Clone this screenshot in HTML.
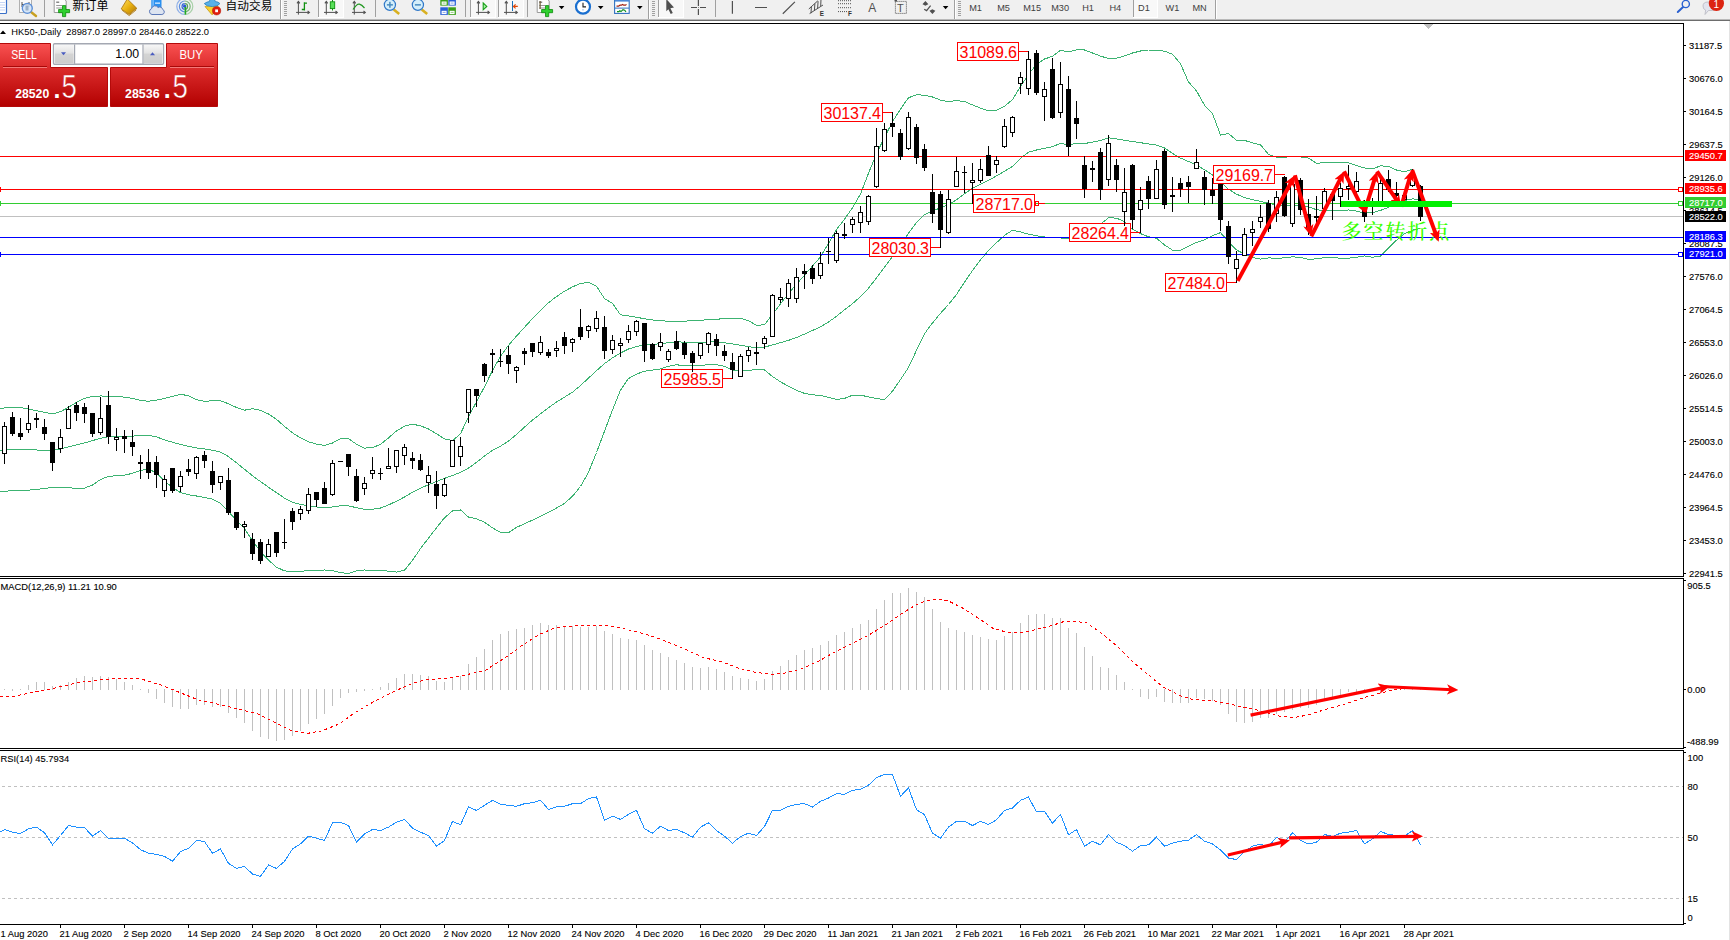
<!DOCTYPE html>
<html><head><meta charset="utf-8"><title>HK50-,Daily</title>
<style>
html,body{margin:0;padding:0;background:#fff;}
body{width:1730px;height:940px;overflow:hidden;position:relative;font-family:"Liberation Sans", sans-serif;}
svg{position:absolute;left:0;top:0;display:block}
svg text{font-family:"Liberation Sans", sans-serif;}
.ax{font-size:9.2px;fill:#000}
.cjk{font-family:"Liberation Sans","Noto Sans CJK SC",sans-serif}
</style></head><body>
<svg width="1730" height="940" viewBox="0 0 1730 940">

<rect x="0" y="0" width="1730" height="19" fill="#f0f0f0"/>
<rect x="0" y="19" width="1730" height="1" fill="#b9b9b9"/>
<rect x="0" y="20" width="1730" height="1" fill="#6d6d6d"/>
<rect x="1729" y="21" width="1" height="919" fill="#e3e3e3"/>
<g clip-path="url(#tbc)"><defs><clipPath id="tbc"><rect x="0" y="0" width="1730" height="19"/></clipPath></defs><rect x="318" y="0" width="25" height="17" fill="#f8f8f8"/>
<rect x="318" y="0" width="1" height="17" fill="#a0a0a0"/>
<rect x="318" y="17" width="26" height="1" fill="#ffffff"/>
<rect x="343" y="0" width="1" height="17" fill="#ffffff"/>
<rect x="470" y="0" width="25" height="17" fill="#f8f8f8"/>
<rect x="470" y="0" width="1" height="17" fill="#a0a0a0"/>
<rect x="470" y="17" width="26" height="1" fill="#ffffff"/>
<rect x="495" y="0" width="1" height="17" fill="#ffffff"/>
<rect x="498" y="0" width="25" height="17" fill="#f8f8f8"/>
<rect x="498" y="0" width="1" height="17" fill="#a0a0a0"/>
<rect x="498" y="17" width="26" height="1" fill="#ffffff"/>
<rect x="523" y="0" width="1" height="17" fill="#ffffff"/>
<rect x="658" y="0" width="25" height="17" fill="#f8f8f8"/>
<rect x="658" y="0" width="1" height="17" fill="#a0a0a0"/>
<rect x="658" y="17" width="26" height="1" fill="#ffffff"/>
<rect x="683" y="0" width="1" height="17" fill="#ffffff"/>
<rect x="1133" y="0" width="24" height="17" fill="#f8f8f8"/>
<rect x="1133" y="0" width="1" height="17" fill="#a0a0a0"/>
<rect x="1133" y="17" width="25" height="1" fill="#ffffff"/>
<rect x="1157" y="0" width="1" height="17" fill="#ffffff"/>
<rect x="44" y="0" width="1" height="17" fill="#a0a0a0"/>
<rect x="375" y="0" width="1" height="17" fill="#a0a0a0"/>
<rect x="465" y="0" width="1" height="17" fill="#a0a0a0"/>
<rect x="527" y="0" width="1" height="17" fill="#a0a0a0"/>
<rect x="715" y="0" width="1" height="17" fill="#a0a0a0"/>
<rect x="280" y="0" width="1" height="19" fill="#a0a0a0"/><rect x="281" y="0" width="1" height="19" fill="#ffffff"/>
<rect x="284" y="1" width="3" height="1" fill="#a0a0a0"/>
<rect x="284" y="3" width="3" height="1" fill="#a0a0a0"/>
<rect x="284" y="5" width="3" height="1" fill="#a0a0a0"/>
<rect x="284" y="7" width="3" height="1" fill="#a0a0a0"/>
<rect x="284" y="9" width="3" height="1" fill="#a0a0a0"/>
<rect x="284" y="11" width="3" height="1" fill="#a0a0a0"/>
<rect x="284" y="13" width="3" height="1" fill="#a0a0a0"/>
<rect x="284" y="15" width="3" height="1" fill="#a0a0a0"/>
<rect x="648" y="0" width="1" height="19" fill="#a0a0a0"/><rect x="649" y="0" width="1" height="19" fill="#ffffff"/>
<rect x="652" y="1" width="3" height="1" fill="#a0a0a0"/>
<rect x="652" y="3" width="3" height="1" fill="#a0a0a0"/>
<rect x="652" y="5" width="3" height="1" fill="#a0a0a0"/>
<rect x="652" y="7" width="3" height="1" fill="#a0a0a0"/>
<rect x="652" y="9" width="3" height="1" fill="#a0a0a0"/>
<rect x="652" y="11" width="3" height="1" fill="#a0a0a0"/>
<rect x="652" y="13" width="3" height="1" fill="#a0a0a0"/>
<rect x="652" y="15" width="3" height="1" fill="#a0a0a0"/>
<rect x="954" y="0" width="1" height="19" fill="#a0a0a0"/><rect x="955" y="0" width="1" height="19" fill="#ffffff"/>
<rect x="958" y="1" width="3" height="1" fill="#a0a0a0"/>
<rect x="958" y="3" width="3" height="1" fill="#a0a0a0"/>
<rect x="958" y="5" width="3" height="1" fill="#a0a0a0"/>
<rect x="958" y="7" width="3" height="1" fill="#a0a0a0"/>
<rect x="958" y="9" width="3" height="1" fill="#a0a0a0"/>
<rect x="958" y="11" width="3" height="1" fill="#a0a0a0"/>
<rect x="958" y="13" width="3" height="1" fill="#a0a0a0"/>
<rect x="958" y="15" width="3" height="1" fill="#a0a0a0"/>
<rect x="1215" y="0" width="1" height="19" fill="#a0a0a0"/><rect x="1216" y="0" width="1" height="19" fill="#ffffff"/>
<rect x="-2" y="-2" width="8.5" height="15.5" rx="1" fill="#fff" stroke="#3a70c8" stroke-width="1.2"/>
<rect x="0" y="2" width="5" height="1" fill="#c5d6f5"/>
<rect x="0" y="4.5" width="5" height="1" fill="#c5d6f5"/>
<rect x="0" y="7" width="5" height="1" fill="#c5d6f5"/>
<rect x="0" y="9.5" width="5" height="1" fill="#c5d6f5"/>
<rect x="19.5" y="-2" width="12" height="14.5" fill="#fafafa" stroke="#b0b0b0" stroke-width="1"/>
<path d="M22 2v5M29 2v5M22 4.5h7" stroke="#555" stroke-width="1" fill="none"/>
<line x1="31" y1="12" x2="36" y2="16" stroke="#c8a020" stroke-width="2.4" stroke-linecap="round"/>
<circle cx="27.3" cy="8.3" r="5" fill="#cfe2f7" fill-opacity="0.85" stroke="#5b8fd8" stroke-width="1.3"/>
<rect x="25.5" y="5.5" width="3" height="5" fill="#9ab0c8"/>
<path d="M54.2 -2h9l3 3v11.5h-12z" fill="#fdfdfd" stroke="#9a9a9a" stroke-width="1"/>
<rect x="56.2" y="1.5" width="3" height="1.5" fill="#888"/><rect x="56.2" y="5" width="6" height="1" fill="#999"/><rect x="56.2" y="7.5" width="6" height="1" fill="#999"/>
<path d="M62.50000000000001 5.6h3.2v3.9h3.9v3.2h-3.9v3.9h-3.2v-3.9h-3.9v-3.2h3.9z" fill="#2fd02f" stroke="#0b8a0b" stroke-width="0.8"/>
<text x="72.6" y="9.8" font-size="12px" fill="#000" style="font-family:'Liberation Sans','Noto Sans CJK SC',sans-serif">新订单</text>
<defs><linearGradient id="gd" x1="0" y1="0" x2="1" y2="1"><stop offset="0" stop-color="#ffe066"/><stop offset="0.5" stop-color="#e8b010"/><stop offset="1" stop-color="#a87008"/></linearGradient></defs>
<path d="M127.3 -1 L136.8 8.3 L129.2 14.6 L121.2 8.9 z" fill="url(#gd)" stroke="#a87008" stroke-width="0.8"/>
<path d="M136.3 9.8 L129.2 15.6 L122 10.2" fill="none" stroke="#b88a30" stroke-width="1"/>
<rect x="151.3" y="-2" width="10.2" height="10" fill="#2a90f0"/><rect x="155" y="2.5" width="5" height="1.3" fill="#d8ecff"/><rect x="152.5" y="-2" width="1.2" height="10" fill="#8cc8ff"/>
<path d="M152 14.5 a3 3 0 0 1 -0.5 -5.8 a3.6 3.6 0 0 1 6.6 -1.2 a3 3 0 0 1 4.6 2 a2.6 2.6 0 0 1 -0.8 5 z" fill="#dde4f0" stroke="#5b78b8" stroke-width="1"/>
<g fill="none" stroke-width="1.2"><path d="M184.8 -1.6 a8 8 0 0 0 0 16" stroke="#8fb0e8"/><path d="M184.8 1 a5.4 5.4 0 0 0 0 10.8" stroke="#5f8fe0"/><path d="M184.8 3.6 a2.8 2.8 0 0 0 0 5.6" stroke="#3a68d8"/>
<path d="M184.8 -1.6 a8 8 0 0 1 0 16" stroke="#a8d0a8"/><path d="M184.8 1 a5.4 5.4 0 0 1 0 10.8" stroke="#78b878"/><path d="M184.8 3.6 a2.8 2.8 0 0 1 0 5.6" stroke="#58a058"/></g>
<circle cx="184.6" cy="6.2" r="1.6" fill="#2a58d0"/><rect x="184.6" y="7" width="1.6" height="7.6" fill="#22aa22"/>
<path d="M205 6.5 L212 14.8 L219 8 L216 4 z" fill="#f8d030" stroke="#c89810" stroke-width="0.8"/>
<path d="M204.3 3.6 q3 -2 5 -2 l1.2 -3.6 h3.6 l1.2 3.6 q3 0 4.6 2 q-2 3 -7.6 3 q-6 0 -8 -3z" fill="#58b0e8" stroke="#2a80c0" stroke-width="0.8"/>
<circle cx="216.6" cy="10.8" r="4.1" fill="#e02010" stroke="#b81000" stroke-width="0.6"/><rect x="215.2" y="9.4" width="2.8" height="2.8" fill="#fff"/>
<text x="225.6" y="9.8" font-size="11.7px" fill="#000" style="font-family:'Liberation Sans','Noto Sans CJK SC',sans-serif">自动交易</text>
<g stroke="#505050" stroke-width="1" fill="none"><path d="M298.4 14.6V1.8M296.09999999999997 12.4H309.0"/><path d="M297.0 3.4L298.4 1.4L299.79999999999995 3.4M307.59999999999997 11L309.4 12.4L307.59999999999997 13.8" stroke-width="1.1"/></g>
<path d="M304.4 2.2V10.5M304.4 3.2h2.6M301.8 9.5h2.6" stroke="#109010" stroke-width="1.3" fill="none"/>
<g stroke="#505050" stroke-width="1" fill="none"><path d="M326.3 14.6V1.8M324.0 12.4H336.90000000000003"/><path d="M324.90000000000003 3.4L326.3 1.4L327.7 3.4M335.5 11L337.3 12.4L335.5 13.8" stroke-width="1.1"/></g>
<rect x="332" y="-1" width="1" height="11.5" fill="#109010"/><rect x="330.3" y="1.8" width="4.4" height="6.8" fill="#58e058" stroke="#109010" stroke-width="0.9"/>
<g stroke="#505050" stroke-width="1" fill="none"><path d="M354.3 14.6V1.8M352.0 12.4H364.90000000000003"/><path d="M352.90000000000003 3.4L354.3 1.4L355.7 3.4M363.5 11L365.3 12.4L363.5 13.8" stroke-width="1.1"/></g>
<path d="M353 9.5 Q357 3.5 359.4 4.2 T364.5 8" stroke="#209820" stroke-width="1.2" fill="none"/>
<line x1="393.7" y1="9.6" x2="399.2" y2="14" stroke="#d8b020" stroke-width="2.6"/>
<circle cx="389.9" cy="4.8" r="5.6" fill="#d4eefa" stroke="#3078c8" stroke-width="1.2"/>
<rect x="386.9" y="4.1" width="6" height="1.5" fill="#4a8cc0"/>
<rect x="389.15" y="1.8" width="1.5" height="6" fill="#4a8cc0"/>
<line x1="421.7" y1="9.6" x2="427.2" y2="14" stroke="#d8b020" stroke-width="2.6"/>
<circle cx="417.9" cy="4.8" r="5.6" fill="#d4eefa" stroke="#3078c8" stroke-width="1.2"/>
<rect x="414.9" y="4.1" width="6" height="1.5" fill="#4a8cc0"/>
<rect x="440.3" y="-2" width="7.6" height="7.6" fill="#3aa018"/><rect x="441.6" y="1.5" width="5" height="3.3" fill="#fff"/><rect x="442.6" y="2.5999999999999996" width="3" height="0.9" fill="#3aa018" fill-opacity="0.6"/>
<rect x="448.3" y="-2" width="7.6" height="7.6" fill="#2a60d8"/><rect x="449.6" y="1.5" width="5" height="3.3" fill="#fff"/><rect x="450.6" y="2.5999999999999996" width="3" height="0.9" fill="#2a60d8" fill-opacity="0.6"/>
<rect x="440.3" y="7.3" width="7.6" height="7.6" fill="#2a60d8"/><rect x="441.6" y="10.8" width="5" height="3.3" fill="#fff"/><rect x="442.6" y="11.899999999999999" width="3" height="0.9" fill="#2a60d8" fill-opacity="0.6"/>
<rect x="448.3" y="7.3" width="7.6" height="7.6" fill="#3aa018"/><rect x="449.6" y="10.8" width="5" height="3.3" fill="#fff"/><rect x="450.6" y="11.899999999999999" width="3" height="0.9" fill="#3aa018" fill-opacity="0.6"/>
<g stroke="#505050" stroke-width="1" fill="none"><path d="M478.4 14.6V1.8M476.09999999999997 12.4H489.0"/><path d="M477.0 3.4L478.4 1.4L479.79999999999995 3.4M487.59999999999997 11L489.4 12.4L487.59999999999997 13.8" stroke-width="1.1"/></g>
<path d="M483.2 3L486.8 6.4L483.2 9.8z" fill="#a8f0a8" stroke="#18a018" stroke-width="1.1"/>
<g stroke="#505050" stroke-width="1" fill="none"><path d="M506.3 14.6V1.8M504.0 12.4H516.9"/><path d="M504.90000000000003 3.4L506.3 1.4L507.7 3.4M515.5 11L517.3 12.4L515.5 13.8" stroke-width="1.1"/></g>
<rect x="512" y="1" width="1" height="10" fill="#1870b8"/><path d="M513.4 6.4h4.4M515.6 4.4L513.4 6.4L515.6 8.4" stroke="#e04808" stroke-width="1.2" fill="none"/>
<path d="M537.2 -2h9l3 3v11.5h-12z" fill="#fdfdfd" stroke="#9a9a9a" stroke-width="1"/>
<rect x="539.2" y="1.5" width="3" height="1.5" fill="#888"/><rect x="539.2" y="5" width="6" height="1" fill="#999"/><rect x="539.2" y="7.5" width="6" height="1" fill="#999"/>
<path d="M545.5 5.6h3.2v3.9h3.9v3.2h-3.9v3.9h-3.2v-3.9h-3.9v-3.2h3.9z" fill="#2fd02f" stroke="#0b8a0b" stroke-width="0.8"/>
<rect x="539.5" y="1" width="1.2" height="8" fill="#6b5a3a"/>
<path d="M558.8 6h5.6l-2.8 3.2z" fill="#000"/>
<circle cx="583" cy="6.7" r="7" fill="#fff" stroke="#1a6fd0" stroke-width="2.2"/><path d="M583 2.8V6.9H586" stroke="#222" stroke-width="1.1" fill="none"/><rect x="582" y="9.5" width="2" height="0.8" fill="#8ab8f0"/>
<path d="M597.9 6h5.6l-2.8 3.2z" fill="#000"/>
<rect x="614.6" y="-2" width="14.6" height="15.4" fill="#fff" stroke="#3070c0" stroke-width="1.1"/><rect x="615" y="-2" width="14" height="3.6" fill="#4a88d8"/><rect x="615" y="7.6" width="14" height="1" fill="#3070c0"/>
<path d="M616.5 6.2h2l1.5 -1h1.5l1 -0.8l1.2 0.8h1.8l1 -0.8" stroke="#a02010" stroke-width="1.2" fill="none"/><path d="M617 11.6h1.8l1 -0.8l1.2 0.8l2 -2l1.6 0.6l1.4 1.6" stroke="#109020" stroke-width="1.2" fill="none"/>
<path d="M637 6h5.6l-2.8 3.2z" fill="#000"/>
<path d="M666.3 -1 L674 7.6 L670.4 8.3 L672.8 13 L670.7 14 L668.4 9.3 L666.3 11.2 z" fill="#505050"/>
<path d="M691 7.5h6M700 7.5h6M698.4 0v6M698.4 9v6" stroke="#505050" stroke-width="1.2" fill="none"/><rect x="698" y="7.1" width="0.8" height="0.8" fill="#505050"/>
<path d="M732.4 1V13.7M755 7.5H767M782.8 13.7L794.9 1.9" stroke="#505050" stroke-width="1.2" fill="none"/>
<path d="M808.8 9L817.8 0.8M809.6 13.6L823 5M811.4 6.4L811 13.2M814.9 3.6L814.4 10.6M818.1 1.2L817.6 8.4M821 -1L820.7 6" stroke="#505050" stroke-width="1" fill="none"/>
<text x="819.8" y="15.7" font-size="6.3px" font-weight="bold" fill="#333">E</text>
<line x1="838" y1="0.7" x2="851" y2="0.7" stroke="#505050" stroke-width="1" stroke-dasharray="1,1"/>
<line x1="838" y1="3.7" x2="851" y2="3.7" stroke="#505050" stroke-width="1" stroke-dasharray="1,1"/>
<line x1="838" y1="7.7" x2="851" y2="7.7" stroke="#505050" stroke-width="1" stroke-dasharray="1,1"/>
<line x1="838" y1="11.6" x2="847" y2="11.6" stroke="#505050" stroke-width="1" stroke-dasharray="1,1"/>
<text x="848" y="15.7" font-size="6.3px" font-weight="bold" fill="#333">F</text>
<text x="868.3" y="11.8" font-size="12px" fill="#505050">A</text>
<rect x="895.4" y="1.4" width="11" height="12" fill="none" stroke="#505050" stroke-width="1" stroke-dasharray="1,1"/><rect x="894.5" y="0" width="2.5" height="1.5" fill="#505050"/>
<text x="897.1" y="11.9" font-size="11px" fill="#505050">T</text>
<path d="M925.4 1l3 3.2h-6z M922.6 4.2h5.6l-2.8 1.6z" fill="#505050"/><path d="M932.4 14l3 -3.2h-6z M929.6 10.8h5.6l-2.8 -1.6z" fill="#505050"/><path d="M924.2 9.2L926.6 10.6L930.6 5.6" stroke="#505050" stroke-width="1.2" fill="none"/>
<path d="M942.8 6h5.6l-2.8 3.2z" fill="#000"/>
<text x="969.2" y="10.9" font-size="9.2px" fill="#404040">M1</text>
<text x="997.2" y="10.9" font-size="9.2px" fill="#404040">M5</text>
<text x="1023.2" y="10.9" font-size="9.2px" fill="#404040">M15</text>
<text x="1051.2" y="10.9" font-size="9.2px" fill="#404040">M30</text>
<text x="1082.2" y="10.9" font-size="9.2px" fill="#404040">H1</text>
<text x="1109.4" y="10.9" font-size="9.2px" fill="#404040">H4</text>
<text x="1138" y="10.9" font-size="9.2px" fill="#404040">D1</text>
<text x="1165.6" y="10.9" font-size="9.2px" fill="#404040">W1</text>
<text x="1192.4" y="10.9" font-size="9.2px" fill="#404040">MN</text>
<line x1="1683.6" y1="6.6" x2="1677.8" y2="12" stroke="#2a60d0" stroke-width="2" stroke-linecap="round"/><circle cx="1685.8" cy="4" r="3.6" fill="#f0f0f0" stroke="#2a60d0" stroke-width="1.4"/>
<path d="M1703 6 q0 -4 5 -4 h4 q5 0 5 4 q0 4.5 -6 4.5 h-2.5 l-3.5 4 l0.6 -4.4 q-2.6 -0.8 -2.6 -4.1z" fill="#e2e4ee" stroke="#b8b8c0" stroke-width="0.8"/>
<circle cx="1716.4" cy="3.4" r="7.6" fill="#dc2410"/><text x="1713.4" y="8" font-size="10px" fill="#fff">1</text></g>
<g shape-rendering="crispEdges">
<rect x="0" y="216" width="1683" height="1" fill="#c0c0c0"/>
</g>
<g clip-path="url(#cm)">
<defs><clipPath id="cm"><rect x="0" y="24" width="1683" height="552"/></clipPath></defs>
<polyline points="0.0,408.7 4.5,408.0 12.5,407.1 20.5,407.5 28.5,409.1 36.5,410.7 44.5,412.3 52.5,413.9 60.5,411.7 68.5,407.3 76.5,402.4 84.5,398.3 92.5,396.3 100.5,396.0 108.5,396.1 116.5,396.5 124.5,397.1 132.5,398.4 140.5,400.5 148.5,401.2 156.5,400.1 164.5,398.4 172.5,396.3 180.5,394.3 188.5,395.7 196.5,399.6 204.5,401.4 212.5,400.7 220.5,400.9 228.5,403.7 236.5,407.5 244.5,410.2 252.5,408.7 260.5,410.3 268.5,414.0 276.5,419.3 284.5,426.4 292.5,432.9 300.5,437.9 308.5,441.8 316.5,444.1 324.5,445.4 332.5,443.0 340.5,438.8 348.5,438.7 356.5,444.2 364.5,448.1 372.5,447.6 380.5,444.4 388.5,437.9 396.5,431.0 404.5,426.2 412.5,424.2 420.5,425.8 428.5,429.0 436.5,433.8 444.5,438.8 452.5,440.7 460.5,433.8 468.5,416.6 476.5,401.8 484.5,386.8 492.5,370.5 500.5,356.4 508.5,345.3 516.5,336.1 524.5,327.3 532.5,318.6 540.5,310.2 548.5,302.7 556.5,296.6 564.5,291.2 572.5,286.9 580.5,283.5 588.5,282.4 596.5,286.3 604.5,298.5 612.5,303.4 620.5,314.8 628.5,316.0 636.5,317.2 644.5,318.8 652.5,320.0 660.5,320.8 668.5,321.2 676.5,321.3 684.5,321.1 692.5,320.8 700.5,320.3 708.5,319.7 716.5,319.2 724.5,318.7 732.5,318.3 740.5,318.1 748.5,320.7 756.5,325.4 764.5,324.7 772.5,314.3 780.5,303.8 788.5,293.5 796.5,284.3 804.5,275.2 812.5,266.0 820.5,256.9 828.5,243.3 836.5,229.6 844.5,219.2 852.5,207.7 860.5,194.0 868.5,173.2 876.5,153.6 884.5,137.6 892.5,121.7 900.5,109.1 908.5,97.7 916.5,94.9 924.5,95.1 932.5,97.0 940.5,100.1 948.5,101.6 956.5,100.6 964.5,101.5 972.5,104.9 980.5,108.1 988.5,110.8 996.5,110.2 1004.5,106.4 1012.5,99.5 1020.5,86.5 1028.5,74.4 1036.5,64.3 1044.5,59.0 1052.5,56.3 1060.5,50.3 1068.5,51.8 1076.5,49.9 1084.5,50.0 1092.5,53.0 1100.5,56.1 1108.5,58.5 1116.5,58.2 1124.5,55.9 1132.5,53.0 1140.5,51.0 1148.5,50.0 1156.5,50.0 1164.5,51.2 1172.5,54.2 1180.5,63.8 1188.5,82.0 1196.5,90.9 1204.5,105.2 1212.5,113.7 1220.5,135.0 1228.5,133.5 1236.5,140.2 1244.5,140.4 1252.5,142.9 1260.5,144.8 1268.5,154.3 1276.5,157.3 1284.5,157.1 1292.5,156.8 1300.5,157.0 1308.5,158.1 1316.5,163.2 1324.5,162.8 1332.5,162.4 1340.5,162.3 1348.5,162.8 1356.5,165.5 1364.5,168.0 1372.5,169.0 1380.5,165.8 1388.5,166.5 1396.5,170.0 1404.5,171.8 1412.5,169.2" fill="none" stroke="#3cb371" stroke-width="1" shape-rendering="crispEdges" />
<polyline points="0.0,450.2 4.5,449.9 12.5,449.4 20.5,449.2 28.5,449.3 36.5,450.0 44.5,450.5 52.5,450.3 60.5,448.9 68.5,446.9 76.5,444.9 84.5,442.9 92.5,440.6 100.5,438.3 108.5,436.8 116.5,436.4 124.5,436.4 132.5,436.1 140.5,435.5 148.5,435.3 156.5,436.9 164.5,439.8 172.5,442.3 180.5,444.4 188.5,446.3 196.5,448.0 204.5,449.0 212.5,450.2 220.5,452.1 228.5,456.6 236.5,462.8 244.5,469.3 252.5,475.7 260.5,481.6 268.5,487.2 276.5,492.7 284.5,498.1 292.5,502.4 300.5,504.5 308.5,505.8 316.5,507.0 324.5,507.7 332.5,507.0 340.5,505.8 348.5,505.8 356.5,507.7 364.5,509.2 372.5,509.3 380.5,508.0 388.5,504.9 396.5,501.2 404.5,497.0 412.5,492.3 420.5,488.1 428.5,484.7 436.5,481.5 444.5,478.4 452.5,475.5 460.5,472.4 468.5,468.1 476.5,462.4 484.5,456.0 492.5,450.4 500.5,446.1 508.5,441.1 516.5,434.5 524.5,427.1 532.5,420.1 540.5,413.8 548.5,407.8 556.5,402.0 564.5,397.1 572.5,392.2 580.5,385.5 588.5,378.1 596.5,370.7 604.5,363.6 612.5,357.9 620.5,353.0 628.5,349.0 636.5,346.5 644.5,345.1 652.5,344.4 660.5,343.7 668.5,342.6 676.5,341.8 684.5,342.2 692.5,342.9 700.5,342.7 708.5,342.0 716.5,341.9 724.5,342.8 732.5,344.0 740.5,345.2 748.5,346.7 756.5,347.9 764.5,347.1 772.5,344.9 780.5,342.7 788.5,340.4 796.5,337.5 804.5,334.1 812.5,330.5 820.5,326.7 828.5,322.1 836.5,316.2 844.5,309.8 852.5,303.6 860.5,296.7 868.5,288.2 876.5,277.8 884.5,267.3 892.5,256.4 900.5,244.8 908.5,233.3 916.5,222.4 924.5,214.8 932.5,211.1 940.5,207.8 948.5,204.7 956.5,199.8 964.5,193.6 972.5,188.3 980.5,184.4 988.5,180.4 996.5,175.9 1004.5,171.3 1012.5,166.4 1020.5,158.4 1028.5,152.2 1036.5,150.0 1044.5,148.3 1052.5,146.6 1060.5,143.4 1068.5,144.9 1076.5,143.4 1084.5,143.5 1092.5,142.2 1100.5,140.5 1108.5,137.8 1116.5,139.0 1124.5,140.3 1132.5,141.5 1140.5,142.7 1148.5,143.9 1156.5,145.1 1164.5,148.0 1172.5,153.4 1180.5,158.1 1188.5,161.5 1196.5,165.1 1204.5,169.7 1212.5,175.0 1220.5,181.9 1228.5,189.2 1236.5,194.2 1244.5,197.5 1252.5,199.6 1260.5,201.4 1268.5,203.2 1276.5,205.0 1284.5,205.8 1292.5,205.8 1300.5,206.1 1308.5,206.7 1316.5,209.8 1324.5,210.4 1332.5,210.5 1340.5,210.3 1348.5,210.0 1356.5,211.1 1364.5,213.0 1372.5,212.7 1380.5,210.4 1388.5,207.3 1396.5,203.6 1404.5,200.5 1412.5,198.9 1420.5,199.5" fill="none" stroke="#3cb371" stroke-width="1" shape-rendering="crispEdges" />
<polyline points="0.0,491.1 4.5,491.1 12.5,490.9 20.5,490.6 28.5,490.2 36.5,489.4 44.5,488.4 52.5,487.5 60.5,487.3 68.5,487.8 76.5,488.3 84.5,488.1 92.5,485.0 100.5,479.5 108.5,476.4 116.5,475.7 124.5,475.2 132.5,473.3 140.5,470.5 148.5,468.9 156.5,473.1 164.5,480.9 172.5,487.5 180.5,492.6 188.5,494.8 196.5,496.0 204.5,497.5 212.5,499.1 220.5,503.4 228.5,511.7 236.5,520.0 244.5,528.7 252.5,540.7 260.5,551.7 268.5,560.2 276.5,567.2 284.5,570.9 292.5,571.5 300.5,571.2 308.5,570.8 316.5,570.3 324.5,570.0 332.5,570.5 340.5,572.6 348.5,573.5 356.5,570.8 364.5,570.0 372.5,570.3 380.5,570.7 388.5,571.1 396.5,572.1 404.5,570.3 412.5,560.3 420.5,548.6 428.5,538.1 436.5,527.8 444.5,517.8 452.5,511.0 460.5,509.9 468.5,517.1 476.5,518.8 484.5,522.2 492.5,527.9 500.5,532.4 508.5,532.6 516.5,527.4 524.5,523.7 532.5,520.1 540.5,516.4 548.5,512.4 556.5,508.1 564.5,503.4 572.5,496.2 580.5,486.5 588.5,472.2 596.5,452.5 604.5,431.2 612.5,409.9 620.5,390.1 628.5,378.5 636.5,374.1 644.5,371.2 652.5,370.1 660.5,368.9 668.5,366.3 676.5,364.8 684.5,365.6 692.5,365.9 700.5,365.3 708.5,364.8 716.5,364.7 724.5,366.4 732.5,370.2 740.5,370.8 748.5,370.8 756.5,369.1 764.5,370.0 772.5,376.6 780.5,381.8 788.5,386.3 796.5,390.4 804.5,393.4 812.5,394.8 820.5,395.5 828.5,397.4 836.5,399.5 844.5,398.4 852.5,395.2 860.5,395.1 868.5,396.9 876.5,398.6 884.5,399.5 892.5,391.2 900.5,379.6 908.5,367.4 916.5,350.3 924.5,333.7 932.5,323.0 940.5,313.3 948.5,304.5 956.5,294.5 964.5,282.1 972.5,270.6 980.5,259.9 988.5,250.5 996.5,242.7 1004.5,235.4 1012.5,230.2 1020.5,231.9 1028.5,234.2 1036.5,235.7 1044.5,237.0 1052.5,237.7 1060.5,238.0 1068.5,238.3 1076.5,238.2 1084.5,236.3 1092.5,231.0 1100.5,224.2 1108.5,217.8 1116.5,218.1 1124.5,221.7 1132.5,229.2 1140.5,233.6 1148.5,236.8 1156.5,238.3 1164.5,244.9 1172.5,250.2 1180.5,250.4 1188.5,246.4 1196.5,242.4 1204.5,239.8 1212.5,235.6 1220.5,232.6 1228.5,241.9 1236.5,249.9 1244.5,254.2 1252.5,257.6 1260.5,259.1 1268.5,257.9 1276.5,258.2 1284.5,257.9 1292.5,256.8 1300.5,257.4 1308.5,259.4 1316.5,258.8 1324.5,257.6 1332.5,257.6 1340.5,258.2 1348.5,258.2 1356.5,257.2 1364.5,255.9 1372.5,257.2 1380.5,256.1 1388.5,248.2 1396.5,240.2 1404.5,233.6 1412.5,230.2 1420.5,228.5" fill="none" stroke="#3cb371" stroke-width="1" shape-rendering="crispEdges" />
</g>
<g shape-rendering="crispEdges">
<rect x="0" y="156" width="1683" height="1" fill="#ff0000"/>
<rect x="0" y="189" width="1683" height="1" fill="#ff0000"/>
<rect x="0" y="203" width="1683" height="1" fill="#32cd32"/>
<rect x="0" y="237" width="1683" height="1" fill="#0000ff"/>
<rect x="0" y="254" width="1683" height="1" fill="#0000ff"/>
<rect x="1678" y="187" width="5" height="5" fill="#fff" stroke="none"/>
<path d="M1678 187h5v5h-5z M1679 188v3h3v-3z" fill="#ff0000" fill-rule="evenodd"/>
<rect x="-4" y="187" width="5" height="5" fill="#fff" stroke="none"/>
<path d="M-4 187h5v5h-5z M-3 188v3h3v-3z" fill="#ff0000" fill-rule="evenodd"/>
<rect x="1678" y="201" width="5" height="5" fill="#fff" stroke="none"/>
<path d="M1678 201h5v5h-5z M1679 202v3h3v-3z" fill="#32cd32" fill-rule="evenodd"/>
<rect x="-4" y="201" width="5" height="5" fill="#fff" stroke="none"/>
<path d="M-4 201h5v5h-5z M-3 202v3h3v-3z" fill="#32cd32" fill-rule="evenodd"/>
<rect x="1678" y="252" width="5" height="5" fill="#fff" stroke="none"/>
<path d="M1678 252h5v5h-5z M1679 253v3h3v-3z" fill="#0000ff" fill-rule="evenodd"/>
<rect x="-4" y="252" width="5" height="5" fill="#fff" stroke="none"/>
<path d="M-4 252h5v5h-5z M-3 253v3h3v-3z" fill="#0000ff" fill-rule="evenodd"/>
</g>
<rect x="957.5" y="42.5" width="61" height="18" fill="#fff" stroke="#ff0000" stroke-width="1" shape-rendering="crispEdges"/>
<text x="959.6" y="58.1" font-size="16px" fill="#ff0000" textLength="57.4" lengthAdjust="spacing">31089.6</text>
<rect x="1019" y="51" width="10" height="1" fill="#ff0000" shape-rendering="crispEdges"/>
<rect x="821.5" y="103.5" width="61" height="18" fill="#fff" stroke="#ff0000" stroke-width="1" shape-rendering="crispEdges"/>
<text x="823.6" y="119.1" font-size="16px" fill="#ff0000" textLength="57.4" lengthAdjust="spacing">30137.4</text>
<rect x="883" y="112" width="10" height="1" fill="#ff0000" shape-rendering="crispEdges"/>
<rect x="973.5" y="194.5" width="61" height="18" fill="#fff" stroke="#ff0000" stroke-width="1" shape-rendering="crispEdges"/>
<text x="975.6" y="210.1" font-size="16px" fill="#ff0000" textLength="57.4" lengthAdjust="spacing">28717.0</text>
<rect x="869.5" y="238.5" width="61" height="18" fill="#fff" stroke="#ff0000" stroke-width="1" shape-rendering="crispEdges"/>
<text x="871.6" y="254.1" font-size="16px" fill="#ff0000" textLength="57.4" lengthAdjust="spacing">28030.3</text>
<rect x="931" y="247" width="10" height="1" fill="#ff0000" shape-rendering="crispEdges"/>
<rect x="661.5" y="369.5" width="61" height="18" fill="#fff" stroke="#ff0000" stroke-width="1" shape-rendering="crispEdges"/>
<text x="663.6" y="385.1" font-size="16px" fill="#ff0000" textLength="57.4" lengthAdjust="spacing">25985.5</text>
<rect x="723" y="378" width="10" height="1" fill="#ff0000" shape-rendering="crispEdges"/>
<rect x="1213.5" y="165.5" width="61" height="18" fill="#fff" stroke="#ff0000" stroke-width="1" shape-rendering="crispEdges"/>
<text x="1215.6" y="181.1" font-size="16px" fill="#ff0000" textLength="57.4" lengthAdjust="spacing">29169.7</text>
<rect x="1275" y="174" width="10" height="1" fill="#ff0000" shape-rendering="crispEdges"/>
<rect x="1069.5" y="223.5" width="61" height="18" fill="#fff" stroke="#ff0000" stroke-width="1" shape-rendering="crispEdges"/>
<text x="1071.6" y="239.1" font-size="16px" fill="#ff0000" textLength="57.4" lengthAdjust="spacing">28264.4</text>
<rect x="1131" y="232" width="10" height="1" fill="#ff0000" shape-rendering="crispEdges"/>
<rect x="1165.5" y="273.5" width="61" height="18" fill="#fff" stroke="#ff0000" stroke-width="1" shape-rendering="crispEdges"/>
<text x="1167.6" y="289.1" font-size="16px" fill="#ff0000" textLength="57.4" lengthAdjust="spacing">27484.0</text>
<rect x="1227" y="282" width="10" height="1" fill="#ff0000" shape-rendering="crispEdges"/>
<g shape-rendering="crispEdges"><path d="M1035 201h4v5h-4z M1036 202v3h2v-3z" fill="#ff0000" fill-rule="evenodd"/><rect x="1039" y="203" width="6" height="1" fill="#ff0000"/></g>
<g shape-rendering="crispEdges">
<rect x="4" y="422" width="1" height="42" fill="#000"/>
<rect x="2" y="426" width="5" height="28" fill="#000"/>
<rect x="3" y="427" width="3" height="26" fill="#fff"/>
<rect x="12" y="412" width="1" height="24" fill="#000"/>
<rect x="10" y="417" width="5" height="17" fill="#000"/>
<rect x="20" y="418" width="1" height="22" fill="#000"/>
<rect x="18" y="433" width="5" height="4" fill="#000"/>
<rect x="28" y="405" width="1" height="28" fill="#000"/>
<rect x="26" y="423" width="5" height="7" fill="#000"/>
<rect x="27" y="424" width="3" height="5" fill="#fff"/>
<rect x="36" y="413" width="1" height="15" fill="#000"/>
<rect x="34" y="418" width="5" height="2" fill="#000"/>
<rect x="44" y="419" width="1" height="21" fill="#000"/>
<rect x="42" y="427" width="5" height="7" fill="#000"/>
<rect x="52" y="442" width="1" height="29" fill="#000"/>
<rect x="50" y="442" width="5" height="21" fill="#000"/>
<rect x="60" y="429" width="1" height="24" fill="#000"/>
<rect x="58" y="437" width="5" height="12" fill="#000"/>
<rect x="59" y="438" width="3" height="10" fill="#fff"/>
<rect x="68" y="406" width="1" height="23" fill="#000"/>
<rect x="66" y="409" width="5" height="20" fill="#000"/>
<rect x="67" y="410" width="3" height="18" fill="#fff"/>
<rect x="76" y="402" width="1" height="19" fill="#000"/>
<rect x="74" y="405" width="5" height="8" fill="#000"/>
<rect x="84" y="403" width="1" height="20" fill="#000"/>
<rect x="82" y="407" width="5" height="7" fill="#000"/>
<rect x="92" y="413" width="1" height="24" fill="#000"/>
<rect x="90" y="413" width="5" height="21" fill="#000"/>
<rect x="100" y="397" width="1" height="38" fill="#000"/>
<rect x="98" y="418" width="5" height="15" fill="#000"/>
<rect x="99" y="419" width="3" height="13" fill="#fff"/>
<rect x="108" y="391" width="1" height="53" fill="#000"/>
<rect x="106" y="405" width="5" height="32" fill="#000"/>
<rect x="116" y="428" width="1" height="23" fill="#000"/>
<rect x="114" y="437" width="5" height="3" fill="#000"/>
<rect x="115" y="438" width="3" height="1" fill="#fff"/>
<rect x="124" y="430" width="1" height="23" fill="#000"/>
<rect x="122" y="436" width="5" height="3" fill="#000"/>
<rect x="132" y="430" width="1" height="26" fill="#000"/>
<rect x="130" y="442" width="5" height="5" fill="#000"/>
<rect x="140" y="455" width="1" height="24" fill="#000"/>
<rect x="138" y="462" width="5" height="2" fill="#000"/>
<rect x="148" y="449" width="1" height="30" fill="#000"/>
<rect x="146" y="462" width="5" height="11" fill="#000"/>
<rect x="156" y="456" width="1" height="32" fill="#000"/>
<rect x="154" y="462" width="5" height="13" fill="#000"/>
<rect x="164" y="475" width="1" height="22" fill="#000"/>
<rect x="162" y="479" width="5" height="12" fill="#000"/>
<rect x="163" y="480" width="3" height="10" fill="#fff"/>
<rect x="172" y="468" width="1" height="25" fill="#000"/>
<rect x="170" y="468" width="5" height="23" fill="#000"/>
<rect x="180" y="471" width="1" height="21" fill="#000"/>
<rect x="178" y="476" width="5" height="11" fill="#000"/>
<rect x="179" y="477" width="3" height="9" fill="#fff"/>
<rect x="188" y="459" width="1" height="17" fill="#000"/>
<rect x="186" y="469" width="5" height="3" fill="#000"/>
<rect x="196" y="456" width="1" height="23" fill="#000"/>
<rect x="194" y="457" width="5" height="17" fill="#000"/>
<rect x="195" y="458" width="3" height="15" fill="#fff"/>
<rect x="204" y="451" width="1" height="17" fill="#000"/>
<rect x="202" y="455" width="5" height="6" fill="#000"/>
<rect x="212" y="461" width="1" height="32" fill="#000"/>
<rect x="210" y="471" width="5" height="14" fill="#000"/>
<rect x="220" y="476" width="1" height="14" fill="#000"/>
<rect x="218" y="476" width="5" height="7" fill="#000"/>
<rect x="219" y="477" width="3" height="5" fill="#fff"/>
<rect x="228" y="468" width="1" height="47" fill="#000"/>
<rect x="226" y="480" width="5" height="33" fill="#000"/>
<rect x="236" y="512" width="1" height="18" fill="#000"/>
<rect x="234" y="512" width="5" height="16" fill="#000"/>
<rect x="244" y="521" width="1" height="17" fill="#000"/>
<rect x="242" y="524" width="5" height="3" fill="#000"/>
<rect x="243" y="525" width="3" height="1" fill="#fff"/>
<rect x="252" y="533" width="1" height="27" fill="#000"/>
<rect x="250" y="539" width="5" height="15" fill="#000"/>
<rect x="260" y="539" width="1" height="25" fill="#000"/>
<rect x="258" y="542" width="5" height="19" fill="#000"/>
<rect x="268" y="539" width="1" height="18" fill="#000"/>
<rect x="266" y="544" width="5" height="13" fill="#000"/>
<rect x="267" y="545" width="3" height="11" fill="#fff"/>
<rect x="276" y="532" width="1" height="25" fill="#000"/>
<rect x="274" y="532" width="5" height="21" fill="#000"/>
<rect x="284" y="519" width="1" height="30" fill="#000"/>
<rect x="282" y="542" width="5" height="1" fill="#000"/>
<rect x="292" y="508" width="1" height="22" fill="#000"/>
<rect x="290" y="511" width="5" height="11" fill="#000"/>
<rect x="300" y="506" width="1" height="14" fill="#000"/>
<rect x="298" y="509" width="5" height="5" fill="#000"/>
<rect x="299" y="510" width="3" height="3" fill="#fff"/>
<rect x="308" y="488" width="1" height="26" fill="#000"/>
<rect x="306" y="494" width="5" height="17" fill="#000"/>
<rect x="307" y="495" width="3" height="15" fill="#fff"/>
<rect x="316" y="492" width="1" height="15" fill="#000"/>
<rect x="314" y="492" width="5" height="8" fill="#000"/>
<rect x="324" y="482" width="1" height="22" fill="#000"/>
<rect x="322" y="488" width="5" height="16" fill="#000"/>
<rect x="332" y="460" width="1" height="36" fill="#000"/>
<rect x="330" y="463" width="5" height="32" fill="#000"/>
<rect x="331" y="464" width="3" height="30" fill="#fff"/>
<rect x="340" y="461" width="1" height="1" fill="#000"/>
<rect x="338" y="461" width="5" height="1" fill="#000"/>
<rect x="348" y="454" width="1" height="22" fill="#000"/>
<rect x="346" y="454" width="5" height="13" fill="#000"/>
<rect x="356" y="469" width="1" height="33" fill="#000"/>
<rect x="354" y="476" width="5" height="25" fill="#000"/>
<rect x="364" y="477" width="1" height="18" fill="#000"/>
<rect x="362" y="483" width="5" height="6" fill="#000"/>
<rect x="363" y="484" width="3" height="4" fill="#fff"/>
<rect x="372" y="457" width="1" height="22" fill="#000"/>
<rect x="370" y="470" width="5" height="4" fill="#000"/>
<rect x="371" y="471" width="3" height="2" fill="#fff"/>
<rect x="380" y="468" width="1" height="12" fill="#000"/>
<rect x="378" y="473" width="5" height="1" fill="#000"/>
<rect x="388" y="448" width="1" height="21" fill="#000"/>
<rect x="386" y="466" width="5" height="3" fill="#000"/>
<rect x="387" y="467" width="3" height="1" fill="#fff"/>
<rect x="396" y="450" width="1" height="23" fill="#000"/>
<rect x="394" y="450" width="5" height="17" fill="#000"/>
<rect x="395" y="451" width="3" height="15" fill="#fff"/>
<rect x="404" y="444" width="1" height="21" fill="#000"/>
<rect x="402" y="447" width="5" height="9" fill="#000"/>
<rect x="403" y="448" width="3" height="7" fill="#fff"/>
<rect x="412" y="452" width="1" height="17" fill="#000"/>
<rect x="410" y="458" width="5" height="3" fill="#000"/>
<rect x="420" y="454" width="1" height="17" fill="#000"/>
<rect x="418" y="460" width="5" height="10" fill="#000"/>
<rect x="428" y="466" width="1" height="27" fill="#000"/>
<rect x="426" y="475" width="5" height="8" fill="#000"/>
<rect x="427" y="476" width="3" height="6" fill="#fff"/>
<rect x="436" y="471" width="1" height="38" fill="#000"/>
<rect x="434" y="484" width="5" height="12" fill="#000"/>
<rect x="444" y="478" width="1" height="19" fill="#000"/>
<rect x="442" y="484" width="5" height="12" fill="#000"/>
<rect x="443" y="485" width="3" height="10" fill="#fff"/>
<rect x="452" y="440" width="1" height="27" fill="#000"/>
<rect x="450" y="440" width="5" height="27" fill="#000"/>
<rect x="451" y="441" width="3" height="25" fill="#fff"/>
<rect x="460" y="437" width="1" height="29" fill="#000"/>
<rect x="458" y="446" width="5" height="11" fill="#000"/>
<rect x="459" y="447" width="3" height="9" fill="#fff"/>
<rect x="468" y="389" width="1" height="34" fill="#000"/>
<rect x="466" y="389" width="5" height="24" fill="#000"/>
<rect x="467" y="390" width="3" height="22" fill="#fff"/>
<rect x="476" y="389" width="1" height="18" fill="#000"/>
<rect x="474" y="389" width="5" height="7" fill="#000"/>
<rect x="484" y="363" width="1" height="19" fill="#000"/>
<rect x="482" y="364" width="5" height="12" fill="#000"/>
<rect x="492" y="349" width="1" height="24" fill="#000"/>
<rect x="490" y="353" width="5" height="2" fill="#000"/>
<rect x="500" y="349" width="1" height="18" fill="#000"/>
<rect x="498" y="361" width="5" height="1" fill="#000"/>
<rect x="508" y="346" width="1" height="28" fill="#000"/>
<rect x="506" y="355" width="5" height="9" fill="#000"/>
<rect x="516" y="366" width="1" height="17" fill="#000"/>
<rect x="514" y="367" width="5" height="4" fill="#000"/>
<rect x="515" y="368" width="3" height="2" fill="#fff"/>
<rect x="524" y="348" width="1" height="17" fill="#000"/>
<rect x="522" y="351" width="5" height="3" fill="#000"/>
<rect x="532" y="343" width="1" height="14" fill="#000"/>
<rect x="530" y="343" width="5" height="9" fill="#000"/>
<rect x="540" y="336" width="1" height="19" fill="#000"/>
<rect x="538" y="342" width="5" height="11" fill="#000"/>
<rect x="539" y="343" width="3" height="9" fill="#fff"/>
<rect x="548" y="349" width="1" height="9" fill="#000"/>
<rect x="546" y="352" width="5" height="4" fill="#000"/>
<rect x="556" y="341" width="1" height="16" fill="#000"/>
<rect x="554" y="348" width="5" height="3" fill="#000"/>
<rect x="555" y="349" width="3" height="1" fill="#fff"/>
<rect x="564" y="332" width="1" height="22" fill="#000"/>
<rect x="562" y="337" width="5" height="9" fill="#000"/>
<rect x="572" y="338" width="1" height="14" fill="#000"/>
<rect x="570" y="339" width="5" height="4" fill="#000"/>
<rect x="571" y="340" width="3" height="2" fill="#fff"/>
<rect x="580" y="309" width="1" height="31" fill="#000"/>
<rect x="578" y="327" width="5" height="10" fill="#000"/>
<rect x="588" y="325" width="1" height="13" fill="#000"/>
<rect x="586" y="326" width="5" height="5" fill="#000"/>
<rect x="587" y="327" width="3" height="3" fill="#fff"/>
<rect x="596" y="311" width="1" height="21" fill="#000"/>
<rect x="594" y="318" width="5" height="11" fill="#000"/>
<rect x="595" y="319" width="3" height="9" fill="#fff"/>
<rect x="604" y="316" width="1" height="43" fill="#000"/>
<rect x="602" y="327" width="5" height="24" fill="#000"/>
<rect x="612" y="335" width="1" height="19" fill="#000"/>
<rect x="610" y="340" width="5" height="10" fill="#000"/>
<rect x="611" y="341" width="3" height="8" fill="#fff"/>
<rect x="620" y="338" width="1" height="19" fill="#000"/>
<rect x="618" y="343" width="5" height="3" fill="#000"/>
<rect x="619" y="344" width="3" height="1" fill="#fff"/>
<rect x="628" y="325" width="1" height="18" fill="#000"/>
<rect x="626" y="331" width="5" height="9" fill="#000"/>
<rect x="627" y="332" width="3" height="7" fill="#fff"/>
<rect x="636" y="320" width="1" height="16" fill="#000"/>
<rect x="634" y="321" width="5" height="11" fill="#000"/>
<rect x="635" y="322" width="3" height="9" fill="#fff"/>
<rect x="644" y="323" width="1" height="39" fill="#000"/>
<rect x="642" y="323" width="5" height="28" fill="#000"/>
<rect x="652" y="343" width="1" height="17" fill="#000"/>
<rect x="650" y="344" width="5" height="15" fill="#000"/>
<rect x="660" y="333" width="1" height="18" fill="#000"/>
<rect x="658" y="342" width="5" height="5" fill="#000"/>
<rect x="659" y="343" width="3" height="3" fill="#fff"/>
<rect x="668" y="349" width="1" height="13" fill="#000"/>
<rect x="666" y="351" width="5" height="9" fill="#000"/>
<rect x="667" y="352" width="3" height="7" fill="#fff"/>
<rect x="676" y="331" width="1" height="19" fill="#000"/>
<rect x="674" y="341" width="5" height="8" fill="#000"/>
<rect x="684" y="341" width="1" height="18" fill="#000"/>
<rect x="682" y="343" width="5" height="12" fill="#000"/>
<rect x="692" y="351" width="1" height="21" fill="#000"/>
<rect x="690" y="353" width="5" height="10" fill="#000"/>
<rect x="700" y="343" width="1" height="16" fill="#000"/>
<rect x="698" y="343" width="5" height="13" fill="#000"/>
<rect x="699" y="344" width="3" height="11" fill="#fff"/>
<rect x="708" y="332" width="1" height="21" fill="#000"/>
<rect x="706" y="333" width="5" height="12" fill="#000"/>
<rect x="707" y="334" width="3" height="10" fill="#fff"/>
<rect x="716" y="334" width="1" height="22" fill="#000"/>
<rect x="714" y="339" width="5" height="7" fill="#000"/>
<rect x="724" y="345" width="1" height="16" fill="#000"/>
<rect x="722" y="351" width="5" height="5" fill="#000"/>
<rect x="732" y="353" width="1" height="26" fill="#000"/>
<rect x="730" y="362" width="5" height="8" fill="#000"/>
<rect x="740" y="354" width="1" height="23" fill="#000"/>
<rect x="738" y="356" width="5" height="21" fill="#000"/>
<rect x="739" y="357" width="3" height="19" fill="#fff"/>
<rect x="748" y="347" width="1" height="15" fill="#000"/>
<rect x="746" y="350" width="5" height="6" fill="#000"/>
<rect x="747" y="351" width="3" height="4" fill="#fff"/>
<rect x="756" y="342" width="1" height="23" fill="#000"/>
<rect x="754" y="352" width="5" height="2" fill="#000"/>
<rect x="764" y="336" width="1" height="13" fill="#000"/>
<rect x="762" y="338" width="5" height="6" fill="#000"/>
<rect x="763" y="339" width="3" height="4" fill="#fff"/>
<rect x="772" y="294" width="1" height="43" fill="#000"/>
<rect x="770" y="295" width="5" height="42" fill="#000"/>
<rect x="771" y="296" width="3" height="40" fill="#fff"/>
<rect x="780" y="288" width="1" height="15" fill="#000"/>
<rect x="778" y="297" width="5" height="3" fill="#000"/>
<rect x="779" y="298" width="3" height="1" fill="#fff"/>
<rect x="788" y="279" width="1" height="28" fill="#000"/>
<rect x="786" y="283" width="5" height="16" fill="#000"/>
<rect x="787" y="284" width="3" height="14" fill="#fff"/>
<rect x="796" y="268" width="1" height="35" fill="#000"/>
<rect x="794" y="277" width="5" height="22" fill="#000"/>
<rect x="795" y="278" width="3" height="20" fill="#fff"/>
<rect x="804" y="264" width="1" height="25" fill="#000"/>
<rect x="802" y="271" width="5" height="3" fill="#000"/>
<rect x="812" y="265" width="1" height="19" fill="#000"/>
<rect x="810" y="268" width="5" height="11" fill="#000"/>
<rect x="820" y="252" width="1" height="27" fill="#000"/>
<rect x="818" y="263" width="5" height="13" fill="#000"/>
<rect x="819" y="264" width="3" height="11" fill="#fff"/>
<rect x="828" y="238" width="1" height="26" fill="#000"/>
<rect x="826" y="251" width="5" height="1" fill="#000"/>
<rect x="836" y="231" width="1" height="32" fill="#000"/>
<rect x="834" y="233" width="5" height="28" fill="#000"/>
<rect x="835" y="234" width="3" height="26" fill="#fff"/>
<rect x="844" y="223" width="1" height="16" fill="#000"/>
<rect x="842" y="234" width="5" height="2" fill="#000"/>
<rect x="852" y="217" width="1" height="16" fill="#000"/>
<rect x="850" y="219" width="5" height="6" fill="#000"/>
<rect x="851" y="220" width="3" height="4" fill="#fff"/>
<rect x="860" y="206" width="1" height="27" fill="#000"/>
<rect x="858" y="212" width="5" height="11" fill="#000"/>
<rect x="859" y="213" width="3" height="9" fill="#fff"/>
<rect x="868" y="195" width="1" height="30" fill="#000"/>
<rect x="866" y="196" width="5" height="26" fill="#000"/>
<rect x="867" y="197" width="3" height="24" fill="#fff"/>
<rect x="876" y="128" width="1" height="60" fill="#000"/>
<rect x="874" y="146" width="5" height="41" fill="#000"/>
<rect x="875" y="147" width="3" height="39" fill="#fff"/>
<rect x="884" y="123" width="1" height="29" fill="#000"/>
<rect x="882" y="129" width="5" height="22" fill="#000"/>
<rect x="883" y="130" width="3" height="20" fill="#fff"/>
<rect x="892" y="112" width="1" height="25" fill="#000"/>
<rect x="890" y="123" width="5" height="4" fill="#000"/>
<rect x="900" y="129" width="1" height="31" fill="#000"/>
<rect x="898" y="133" width="5" height="24" fill="#000"/>
<rect x="908" y="112" width="1" height="38" fill="#000"/>
<rect x="906" y="117" width="5" height="32" fill="#000"/>
<rect x="907" y="118" width="3" height="30" fill="#fff"/>
<rect x="916" y="124" width="1" height="40" fill="#000"/>
<rect x="914" y="127" width="5" height="31" fill="#000"/>
<rect x="924" y="144" width="1" height="27" fill="#000"/>
<rect x="922" y="149" width="5" height="19" fill="#000"/>
<rect x="932" y="174" width="1" height="49" fill="#000"/>
<rect x="930" y="192" width="5" height="22" fill="#000"/>
<rect x="940" y="191" width="1" height="57" fill="#000"/>
<rect x="938" y="194" width="5" height="36" fill="#000"/>
<rect x="948" y="190" width="1" height="44" fill="#000"/>
<rect x="946" y="199" width="5" height="34" fill="#000"/>
<rect x="947" y="200" width="3" height="32" fill="#fff"/>
<rect x="956" y="157" width="1" height="30" fill="#000"/>
<rect x="954" y="171" width="5" height="16" fill="#000"/>
<rect x="955" y="172" width="3" height="14" fill="#fff"/>
<rect x="964" y="166" width="1" height="27" fill="#000"/>
<rect x="962" y="172" width="5" height="1" fill="#000"/>
<rect x="972" y="163" width="1" height="41" fill="#000"/>
<rect x="970" y="180" width="5" height="3" fill="#000"/>
<rect x="971" y="181" width="3" height="1" fill="#fff"/>
<rect x="980" y="159" width="1" height="24" fill="#000"/>
<rect x="978" y="169" width="5" height="12" fill="#000"/>
<rect x="979" y="170" width="3" height="10" fill="#fff"/>
<rect x="988" y="146" width="1" height="30" fill="#000"/>
<rect x="986" y="155" width="5" height="21" fill="#000"/>
<rect x="996" y="156" width="1" height="17" fill="#000"/>
<rect x="994" y="160" width="5" height="5" fill="#000"/>
<rect x="995" y="161" width="3" height="3" fill="#fff"/>
<rect x="1004" y="119" width="1" height="29" fill="#000"/>
<rect x="1002" y="126" width="5" height="21" fill="#000"/>
<rect x="1003" y="127" width="3" height="19" fill="#fff"/>
<rect x="1012" y="116" width="1" height="21" fill="#000"/>
<rect x="1010" y="117" width="5" height="16" fill="#000"/>
<rect x="1011" y="118" width="3" height="14" fill="#fff"/>
<rect x="1020" y="72" width="1" height="22" fill="#000"/>
<rect x="1018" y="77" width="5" height="7" fill="#000"/>
<rect x="1019" y="78" width="3" height="5" fill="#fff"/>
<rect x="1028" y="51" width="1" height="44" fill="#000"/>
<rect x="1026" y="59" width="5" height="30" fill="#000"/>
<rect x="1027" y="60" width="3" height="28" fill="#fff"/>
<rect x="1036" y="50" width="1" height="45" fill="#000"/>
<rect x="1034" y="53" width="5" height="40" fill="#000"/>
<rect x="1044" y="82" width="1" height="39" fill="#000"/>
<rect x="1042" y="89" width="5" height="8" fill="#000"/>
<rect x="1043" y="90" width="3" height="6" fill="#fff"/>
<rect x="1052" y="58" width="1" height="61" fill="#000"/>
<rect x="1050" y="69" width="5" height="49" fill="#000"/>
<rect x="1060" y="62" width="1" height="56" fill="#000"/>
<rect x="1058" y="84" width="5" height="29" fill="#000"/>
<rect x="1059" y="85" width="3" height="27" fill="#fff"/>
<rect x="1068" y="76" width="1" height="80" fill="#000"/>
<rect x="1066" y="89" width="5" height="58" fill="#000"/>
<rect x="1076" y="101" width="1" height="38" fill="#000"/>
<rect x="1074" y="118" width="5" height="6" fill="#000"/>
<rect x="1084" y="156" width="1" height="42" fill="#000"/>
<rect x="1082" y="165" width="5" height="24" fill="#000"/>
<rect x="1092" y="161" width="1" height="21" fill="#000"/>
<rect x="1090" y="168" width="5" height="2" fill="#000"/>
<rect x="1100" y="148" width="1" height="52" fill="#000"/>
<rect x="1098" y="152" width="5" height="38" fill="#000"/>
<rect x="1108" y="135" width="1" height="51" fill="#000"/>
<rect x="1106" y="143" width="5" height="37" fill="#000"/>
<rect x="1107" y="144" width="3" height="35" fill="#fff"/>
<rect x="1116" y="159" width="1" height="33" fill="#000"/>
<rect x="1114" y="165" width="5" height="15" fill="#000"/>
<rect x="1124" y="168" width="1" height="58" fill="#000"/>
<rect x="1122" y="192" width="5" height="20" fill="#000"/>
<rect x="1123" y="193" width="3" height="18" fill="#fff"/>
<rect x="1132" y="164" width="1" height="65" fill="#000"/>
<rect x="1130" y="165" width="5" height="55" fill="#000"/>
<rect x="1140" y="187" width="1" height="46" fill="#000"/>
<rect x="1138" y="200" width="5" height="10" fill="#000"/>
<rect x="1139" y="201" width="3" height="8" fill="#fff"/>
<rect x="1148" y="176" width="1" height="33" fill="#000"/>
<rect x="1146" y="181" width="5" height="18" fill="#000"/>
<rect x="1156" y="160" width="1" height="39" fill="#000"/>
<rect x="1154" y="169" width="5" height="30" fill="#000"/>
<rect x="1155" y="170" width="3" height="28" fill="#fff"/>
<rect x="1164" y="149" width="1" height="60" fill="#000"/>
<rect x="1162" y="151" width="5" height="54" fill="#000"/>
<rect x="1172" y="177" width="1" height="35" fill="#000"/>
<rect x="1170" y="195" width="5" height="2" fill="#000"/>
<rect x="1180" y="178" width="1" height="19" fill="#000"/>
<rect x="1178" y="183" width="5" height="6" fill="#000"/>
<rect x="1188" y="176" width="1" height="27" fill="#000"/>
<rect x="1186" y="182" width="5" height="5" fill="#000"/>
<rect x="1196" y="149" width="1" height="20" fill="#000"/>
<rect x="1194" y="162" width="5" height="7" fill="#000"/>
<rect x="1195" y="163" width="3" height="5" fill="#fff"/>
<rect x="1204" y="171" width="1" height="34" fill="#000"/>
<rect x="1202" y="177" width="5" height="13" fill="#000"/>
<rect x="1212" y="178" width="1" height="26" fill="#000"/>
<rect x="1210" y="190" width="5" height="6" fill="#000"/>
<rect x="1220" y="184" width="1" height="47" fill="#000"/>
<rect x="1218" y="184" width="5" height="36" fill="#000"/>
<rect x="1228" y="221" width="1" height="43" fill="#000"/>
<rect x="1226" y="226" width="5" height="31" fill="#000"/>
<rect x="1236" y="251" width="1" height="32" fill="#000"/>
<rect x="1234" y="259" width="5" height="10" fill="#000"/>
<rect x="1235" y="260" width="3" height="8" fill="#fff"/>
<rect x="1244" y="228" width="1" height="28" fill="#000"/>
<rect x="1242" y="234" width="5" height="22" fill="#000"/>
<rect x="1243" y="235" width="3" height="20" fill="#fff"/>
<rect x="1252" y="221" width="1" height="25" fill="#000"/>
<rect x="1250" y="229" width="5" height="4" fill="#000"/>
<rect x="1251" y="230" width="3" height="2" fill="#fff"/>
<rect x="1260" y="205" width="1" height="23" fill="#000"/>
<rect x="1258" y="217" width="5" height="5" fill="#000"/>
<rect x="1259" y="218" width="3" height="3" fill="#fff"/>
<rect x="1268" y="200" width="1" height="32" fill="#000"/>
<rect x="1266" y="203" width="5" height="26" fill="#000"/>
<rect x="1276" y="191" width="1" height="31" fill="#000"/>
<rect x="1274" y="197" width="5" height="17" fill="#000"/>
<rect x="1275" y="198" width="3" height="15" fill="#fff"/>
<rect x="1284" y="176" width="1" height="41" fill="#000"/>
<rect x="1282" y="177" width="5" height="39" fill="#000"/>
<rect x="1292" y="181" width="1" height="46" fill="#000"/>
<rect x="1290" y="184" width="5" height="40" fill="#000"/>
<rect x="1291" y="185" width="3" height="38" fill="#fff"/>
<rect x="1300" y="178" width="1" height="37" fill="#000"/>
<rect x="1298" y="180" width="5" height="30" fill="#000"/>
<rect x="1308" y="199" width="1" height="36" fill="#000"/>
<rect x="1306" y="214" width="5" height="14" fill="#000"/>
<rect x="1316" y="196" width="1" height="28" fill="#000"/>
<rect x="1314" y="216" width="5" height="2" fill="#000"/>
<rect x="1324" y="188" width="1" height="21" fill="#000"/>
<rect x="1322" y="191" width="5" height="18" fill="#000"/>
<rect x="1323" y="192" width="3" height="16" fill="#fff"/>
<rect x="1332" y="194" width="1" height="26" fill="#000"/>
<rect x="1330" y="194" width="5" height="7" fill="#000"/>
<rect x="1340" y="183" width="1" height="24" fill="#000"/>
<rect x="1338" y="188" width="5" height="9" fill="#000"/>
<rect x="1339" y="189" width="3" height="7" fill="#fff"/>
<rect x="1348" y="165" width="1" height="35" fill="#000"/>
<rect x="1346" y="186" width="5" height="3" fill="#000"/>
<rect x="1347" y="187" width="3" height="1" fill="#fff"/>
<rect x="1356" y="172" width="1" height="21" fill="#000"/>
<rect x="1354" y="181" width="5" height="11" fill="#000"/>
<rect x="1355" y="182" width="3" height="9" fill="#fff"/>
<rect x="1364" y="200" width="1" height="22" fill="#000"/>
<rect x="1362" y="210" width="5" height="7" fill="#000"/>
<rect x="1372" y="198" width="1" height="17" fill="#000"/>
<rect x="1370" y="204" width="5" height="1" fill="#000"/>
<rect x="1380" y="179" width="1" height="24" fill="#000"/>
<rect x="1378" y="183" width="5" height="19" fill="#000"/>
<rect x="1379" y="184" width="3" height="17" fill="#fff"/>
<rect x="1388" y="170" width="1" height="22" fill="#000"/>
<rect x="1386" y="179" width="5" height="11" fill="#000"/>
<rect x="1396" y="182" width="1" height="18" fill="#000"/>
<rect x="1394" y="193" width="5" height="3" fill="#000"/>
<rect x="1404" y="193" width="1" height="8" fill="#000"/>
<rect x="1402" y="195" width="5" height="5" fill="#000"/>
<rect x="1403" y="196" width="3" height="3" fill="#fff"/>
<rect x="1412" y="169" width="1" height="18" fill="#000"/>
<rect x="1410" y="175" width="5" height="11" fill="#000"/>
<rect x="1411" y="176" width="3" height="9" fill="#fff"/>
<rect x="1420" y="185" width="1" height="36" fill="#000"/>
<rect x="1418" y="186" width="5" height="31" fill="#000"/>
</g>
<text x="1341.6" y="238.5" font-size="20px" fill="#38ff00" style="font-family:'Noto Serif CJK SC','Noto Sans CJK SC',serif;font-weight:500" textLength="107.6" lengthAdjust="spacing">多空转折点</text>
<defs><marker id="ah" markerUnits="userSpaceOnUse" viewBox="0 0 11.5 10.4" refX="6" refY="5.2" markerWidth="11.5" markerHeight="10.4" orient="auto"><path d="M0 0 L11.5 5.2 L0 10.4 L3 5.2 z" fill="#ff0000"/></marker></defs>
<line x1="1237.7" y1="280.9" x2="1292.3" y2="180.1" stroke="#ff0000" stroke-width="4" marker-end="url(#ah)"/>
<line x1="1294.9" y1="175.3" x2="1309.9" y2="231.0" stroke="#ff0000" stroke-width="4" marker-end="url(#ah)"/>
<line x1="1311.3" y1="236.3" x2="1341.6" y2="176.3" stroke="#ff0000" stroke-width="4" marker-end="url(#ah)"/>
<line x1="1344.1" y1="171.4" x2="1361.9" y2="207.2" stroke="#ff0000" stroke-width="4" marker-end="url(#ah)"/>
<line x1="1364.4" y1="212.1" x2="1375.4" y2="176.7" stroke="#ff0000" stroke-width="4" marker-end="url(#ah)"/>
<line x1="1377.0" y1="171.4" x2="1398.1" y2="202.1" stroke="#ff0000" stroke-width="4" marker-end="url(#ah)"/>
<line x1="1401.2" y1="206.6" x2="1410.5" y2="175.2" stroke="#ff0000" stroke-width="4" marker-end="url(#ah)"/>
<line x1="1412.1" y1="169.9" x2="1436.8" y2="236.6" stroke="#ff0000" stroke-width="4" marker-end="url(#ah)"/>
<rect x="1341" y="201" width="111" height="6" fill="#00f000" shape-rendering="crispEdges"/>
<g shape-rendering="crispEdges" fill="#000">
<rect x="0" y="23" width="1684" height="1"/>
<rect x="1683" y="23" width="1" height="554"/>
<rect x="0" y="576" width="1684" height="1"/>
<rect x="0" y="578" width="1684" height="1"/>
<rect x="1683" y="578" width="1" height="171"/>
<rect x="0" y="748" width="1684" height="1"/>
<rect x="0" y="750" width="1684" height="1"/>
<rect x="1683" y="750" width="1" height="175"/>
<rect x="0" y="924" width="1684" height="1"/>
<rect x="1684" y="45" width="2" height="1"/>
<rect x="1684" y="78" width="2" height="1"/>
<rect x="1684" y="111" width="2" height="1"/>
<rect x="1684" y="144" width="2" height="1"/>
<rect x="1684" y="177" width="2" height="1"/>
<rect x="1684" y="210" width="2" height="1"/>
<rect x="1684" y="243" width="2" height="1"/>
<rect x="1684" y="276" width="2" height="1"/>
<rect x="1684" y="309" width="2" height="1"/>
<rect x="1684" y="342" width="2" height="1"/>
<rect x="1684" y="375" width="2" height="1"/>
<rect x="1684" y="408" width="2" height="1"/>
<rect x="1684" y="441" width="2" height="1"/>
<rect x="1684" y="474" width="2" height="1"/>
<rect x="1684" y="507" width="2" height="1"/>
<rect x="1684" y="540" width="2" height="1"/>
<rect x="1684" y="573" width="2" height="1"/>
<rect x="1684" y="580" width="2" height="1"/><rect x="1684" y="689" width="2" height="1"/><rect x="1684" y="747" width="2" height="1"/>
<rect x="1684" y="752" width="2" height="1"/><rect x="1684" y="923" width="2" height="1"/>
<rect x="60" y="925" width="1" height="3"/>
<rect x="124" y="925" width="1" height="3"/>
<rect x="188" y="925" width="1" height="3"/>
<rect x="252" y="925" width="1" height="3"/>
<rect x="316" y="925" width="1" height="3"/>
<rect x="380" y="925" width="1" height="3"/>
<rect x="444" y="925" width="1" height="3"/>
<rect x="508" y="925" width="1" height="3"/>
<rect x="572" y="925" width="1" height="3"/>
<rect x="636" y="925" width="1" height="3"/>
<rect x="700" y="925" width="1" height="3"/>
<rect x="764" y="925" width="1" height="3"/>
<rect x="828" y="925" width="1" height="3"/>
<rect x="892" y="925" width="1" height="3"/>
<rect x="956" y="925" width="1" height="3"/>
<rect x="1020" y="925" width="1" height="3"/>
<rect x="1084" y="925" width="1" height="3"/>
<rect x="1148" y="925" width="1" height="3"/>
<rect x="1212" y="925" width="1" height="3"/>
<rect x="1276" y="925" width="1" height="3"/>
<rect x="1340" y="925" width="1" height="3"/>
<rect x="1404" y="925" width="1" height="3"/>
</g>
<text transform="translate(1689 48.7) scale(0.955 1)" font-size="9.8px" fill="#000" stroke="#000" stroke-width="0.12" >31187.5</text>
<text transform="translate(1689 81.7) scale(0.955 1)" font-size="9.8px" fill="#000" stroke="#000" stroke-width="0.12" >30676.0</text>
<text transform="translate(1689 114.7) scale(0.955 1)" font-size="9.8px" fill="#000" stroke="#000" stroke-width="0.12" >30164.5</text>
<text transform="translate(1689 147.7) scale(0.955 1)" font-size="9.8px" fill="#000" stroke="#000" stroke-width="0.12" >29637.5</text>
<text transform="translate(1689 180.7) scale(0.955 1)" font-size="9.8px" fill="#000" stroke="#000" stroke-width="0.12" >29126.0</text>
<text transform="translate(1689 213.7) scale(0.955 1)" font-size="9.8px" fill="#000" stroke="#000" stroke-width="0.12" >28614.5</text>
<text transform="translate(1689 246.7) scale(0.955 1)" font-size="9.8px" fill="#000" stroke="#000" stroke-width="0.12" >28087.5</text>
<text transform="translate(1689 279.7) scale(0.955 1)" font-size="9.8px" fill="#000" stroke="#000" stroke-width="0.12" >27576.0</text>
<text transform="translate(1689 312.7) scale(0.955 1)" font-size="9.8px" fill="#000" stroke="#000" stroke-width="0.12" >27064.5</text>
<text transform="translate(1689 345.7) scale(0.955 1)" font-size="9.8px" fill="#000" stroke="#000" stroke-width="0.12" >26553.0</text>
<text transform="translate(1689 378.7) scale(0.955 1)" font-size="9.8px" fill="#000" stroke="#000" stroke-width="0.12" >26026.0</text>
<text transform="translate(1689 411.7) scale(0.955 1)" font-size="9.8px" fill="#000" stroke="#000" stroke-width="0.12" >25514.5</text>
<text transform="translate(1689 444.7) scale(0.955 1)" font-size="9.8px" fill="#000" stroke="#000" stroke-width="0.12" >25003.0</text>
<text transform="translate(1689 477.7) scale(0.955 1)" font-size="9.8px" fill="#000" stroke="#000" stroke-width="0.12" >24476.0</text>
<text transform="translate(1689 510.7) scale(0.955 1)" font-size="9.8px" fill="#000" stroke="#000" stroke-width="0.12" >23964.5</text>
<text transform="translate(1689 543.7) scale(0.955 1)" font-size="9.8px" fill="#000" stroke="#000" stroke-width="0.12" >23453.0</text>
<text transform="translate(1689 576.7) scale(0.955 1)" font-size="9.8px" fill="#000" stroke="#000" stroke-width="0.12" >22941.5</text>
<text transform="translate(1687.3 589) scale(0.955 1)" font-size="9.8px" fill="#000" stroke="#000" stroke-width="0.12" >905.5</text>
<text transform="translate(1687.3 692.6) scale(0.955 1)" font-size="9.8px" fill="#000" stroke="#000" stroke-width="0.12" >0.00</text>
<text transform="translate(1687 745) scale(0.955 1)" font-size="9.8px" fill="#000" stroke="#000" stroke-width="0.12" >-488.99</text>
<text transform="translate(1687.5 761) scale(0.955 1)" font-size="9.8px" fill="#000" stroke="#000" stroke-width="0.12" >100</text>
<text transform="translate(1687.5 790) scale(0.955 1)" font-size="9.8px" fill="#000" stroke="#000" stroke-width="0.12" >80</text>
<text transform="translate(1687.5 841) scale(0.955 1)" font-size="9.8px" fill="#000" stroke="#000" stroke-width="0.12" >50</text>
<text transform="translate(1687.5 902) scale(0.955 1)" font-size="9.8px" fill="#000" stroke="#000" stroke-width="0.12" >15</text>
<text transform="translate(1687.5 920.5) scale(0.955 1)" font-size="9.8px" fill="#000" stroke="#000" stroke-width="0.12" >0</text>
<text transform="translate(0.5 937) scale(0.955 1)" font-size="9.8px" fill="#000" stroke="#000" stroke-width="0.12" >1 Aug 2020</text>
<text transform="translate(59.5 937) scale(0.955 1)" font-size="9.8px" fill="#000" stroke="#000" stroke-width="0.12" >21 Aug 2020</text>
<text transform="translate(123.5 937) scale(0.955 1)" font-size="9.8px" fill="#000" stroke="#000" stroke-width="0.12" >2 Sep 2020</text>
<text transform="translate(187.5 937) scale(0.955 1)" font-size="9.8px" fill="#000" stroke="#000" stroke-width="0.12" >14 Sep 2020</text>
<text transform="translate(251.5 937) scale(0.955 1)" font-size="9.8px" fill="#000" stroke="#000" stroke-width="0.12" >24 Sep 2020</text>
<text transform="translate(315.5 937) scale(0.955 1)" font-size="9.8px" fill="#000" stroke="#000" stroke-width="0.12" >8 Oct 2020</text>
<text transform="translate(379.5 937) scale(0.955 1)" font-size="9.8px" fill="#000" stroke="#000" stroke-width="0.12" >20 Oct 2020</text>
<text transform="translate(443.5 937) scale(0.955 1)" font-size="9.8px" fill="#000" stroke="#000" stroke-width="0.12" >2 Nov 2020</text>
<text transform="translate(507.5 937) scale(0.955 1)" font-size="9.8px" fill="#000" stroke="#000" stroke-width="0.12" >12 Nov 2020</text>
<text transform="translate(571.5 937) scale(0.955 1)" font-size="9.8px" fill="#000" stroke="#000" stroke-width="0.12" >24 Nov 2020</text>
<text transform="translate(635.5 937) scale(0.955 1)" font-size="9.8px" fill="#000" stroke="#000" stroke-width="0.12" >4 Dec 2020</text>
<text transform="translate(699.5 937) scale(0.955 1)" font-size="9.8px" fill="#000" stroke="#000" stroke-width="0.12" >16 Dec 2020</text>
<text transform="translate(763.5 937) scale(0.955 1)" font-size="9.8px" fill="#000" stroke="#000" stroke-width="0.12" >29 Dec 2020</text>
<text transform="translate(827.5 937) scale(0.955 1)" font-size="9.8px" fill="#000" stroke="#000" stroke-width="0.12" >11 Jan 2021</text>
<text transform="translate(891.5 937) scale(0.955 1)" font-size="9.8px" fill="#000" stroke="#000" stroke-width="0.12" >21 Jan 2021</text>
<text transform="translate(955.5 937) scale(0.955 1)" font-size="9.8px" fill="#000" stroke="#000" stroke-width="0.12" >2 Feb 2021</text>
<text transform="translate(1019.5 937) scale(0.955 1)" font-size="9.8px" fill="#000" stroke="#000" stroke-width="0.12" >16 Feb 2021</text>
<text transform="translate(1083.5 937) scale(0.955 1)" font-size="9.8px" fill="#000" stroke="#000" stroke-width="0.12" >26 Feb 2021</text>
<text transform="translate(1147.5 937) scale(0.955 1)" font-size="9.8px" fill="#000" stroke="#000" stroke-width="0.12" >10 Mar 2021</text>
<text transform="translate(1211.5 937) scale(0.955 1)" font-size="9.8px" fill="#000" stroke="#000" stroke-width="0.12" >22 Mar 2021</text>
<text transform="translate(1275.5 937) scale(0.955 1)" font-size="9.8px" fill="#000" stroke="#000" stroke-width="0.12" >1 Apr 2021</text>
<text transform="translate(1339.5 937) scale(0.955 1)" font-size="9.8px" fill="#000" stroke="#000" stroke-width="0.12" >16 Apr 2021</text>
<text transform="translate(1403.5 937) scale(0.955 1)" font-size="9.8px" fill="#000" stroke="#000" stroke-width="0.12" >28 Apr 2021</text>
<rect x="1685" y="150" width="41" height="11" fill="#ff0000" shape-rendering="crispEdges"/>
<text transform="translate(1689 158.9) scale(0.955 1)" font-size="9.8px" fill="#fff" stroke="#fff" stroke-width="0.12" >29450.7</text>
<rect x="1685" y="183" width="41" height="11" fill="#ff0000" shape-rendering="crispEdges"/>
<text transform="translate(1689 191.9) scale(0.955 1)" font-size="9.8px" fill="#fff" stroke="#fff" stroke-width="0.12" >28935.6</text>
<rect x="1685" y="197" width="41" height="11" fill="#32cd32" shape-rendering="crispEdges"/>
<text transform="translate(1689 205.9) scale(0.955 1)" font-size="9.8px" fill="#fff" stroke="#fff" stroke-width="0.12" >28717.0</text>
<rect x="1685" y="211" width="41" height="11" fill="#000000" shape-rendering="crispEdges"/>
<text transform="translate(1689 219.9) scale(0.955 1)" font-size="9.8px" fill="#fff" stroke="#fff" stroke-width="0.12" >28522.0</text>
<rect x="1685" y="231" width="41" height="11" fill="#0000ff" shape-rendering="crispEdges"/>
<text transform="translate(1689 239.9) scale(0.955 1)" font-size="9.8px" fill="#fff" stroke="#fff" stroke-width="0.12" >28186.3</text>
<rect x="1685" y="248" width="41" height="11" fill="#0000ff" shape-rendering="crispEdges"/>
<text transform="translate(1689 256.9) scale(0.955 1)" font-size="9.8px" fill="#fff" stroke="#fff" stroke-width="0.12" >27921.0</text>
<path d="M1424 24h9l-4.5 5z" fill="#c0c0c0" shape-rendering="crispEdges"/>
<path d="M0 34 L3 30.5 L6 34z" fill="#000"/>
<text transform="translate(11.3 35.3) scale(0.953 1)" font-size="9.8px" fill="#000" xml:space="preserve">HK50-,Daily  28987.0 28997.0 28446.0 28522.0</text>
<text transform="translate(0.5 590.3) scale(0.955 1)" font-size="9.8px" fill="#000" stroke="#000" stroke-width="0.12" >MACD(12,26,9) 11.21 10.90</text>
<text transform="translate(0.5 762.3) scale(0.955 1)" font-size="9.8px" fill="#000" stroke="#000" stroke-width="0.12" >RSI(14) 45.7934</text>
<g shape-rendering="crispEdges" fill="#c0c0c0">
<rect x="4" y="689" width="1" height="1"/>
<rect x="12" y="689" width="1" height="2"/>
<rect x="20" y="689" width="1" height="1"/>
<rect x="28" y="685" width="1" height="5"/>
<rect x="36" y="682" width="1" height="8"/>
<rect x="44" y="682" width="1" height="8"/>
<rect x="52" y="686" width="1" height="4"/>
<rect x="60" y="685" width="1" height="5"/>
<rect x="68" y="682" width="1" height="8"/>
<rect x="76" y="678" width="1" height="12"/>
<rect x="84" y="676" width="1" height="14"/>
<rect x="92" y="677" width="1" height="13"/>
<rect x="100" y="676" width="1" height="14"/>
<rect x="108" y="677" width="1" height="13"/>
<rect x="116" y="679" width="1" height="11"/>
<rect x="124" y="682" width="1" height="8"/>
<rect x="132" y="685" width="1" height="5"/>
<rect x="140" y="689" width="1" height="1"/>
<rect x="148" y="689" width="1" height="4"/>
<rect x="156" y="689" width="1" height="10"/>
<rect x="164" y="689" width="1" height="14"/>
<rect x="172" y="689" width="1" height="18"/>
<rect x="180" y="689" width="1" height="20"/>
<rect x="188" y="689" width="1" height="20"/>
<rect x="196" y="689" width="1" height="16"/>
<rect x="204" y="689" width="1" height="16"/>
<rect x="212" y="689" width="1" height="18"/>
<rect x="220" y="689" width="1" height="18"/>
<rect x="228" y="689" width="1" height="24"/>
<rect x="236" y="689" width="1" height="29"/>
<rect x="244" y="689" width="1" height="34"/>
<rect x="252" y="689" width="1" height="42"/>
<rect x="260" y="689" width="1" height="48"/>
<rect x="268" y="689" width="1" height="50"/>
<rect x="276" y="689" width="1" height="52"/>
<rect x="284" y="689" width="1" height="51"/>
<rect x="292" y="689" width="1" height="47"/>
<rect x="300" y="689" width="1" height="42"/>
<rect x="308" y="689" width="1" height="35"/>
<rect x="316" y="689" width="1" height="30"/>
<rect x="324" y="689" width="1" height="25"/>
<rect x="332" y="689" width="1" height="17"/>
<rect x="340" y="689" width="1" height="9"/>
<rect x="348" y="689" width="1" height="4"/>
<rect x="356" y="689" width="1" height="3"/>
<rect x="364" y="689" width="1" height="2"/>
<rect x="372" y="689" width="1" height="1"/>
<rect x="380" y="687" width="1" height="3"/>
<rect x="388" y="683" width="1" height="7"/>
<rect x="396" y="678" width="1" height="12"/>
<rect x="404" y="674" width="1" height="16"/>
<rect x="412" y="674" width="1" height="16"/>
<rect x="420" y="675" width="1" height="15"/>
<rect x="428" y="676" width="1" height="14"/>
<rect x="436" y="681" width="1" height="9"/>
<rect x="444" y="682" width="1" height="8"/>
<rect x="452" y="677" width="1" height="13"/>
<rect x="460" y="676" width="1" height="14"/>
<rect x="468" y="664" width="1" height="26"/>
<rect x="476" y="657" width="1" height="33"/>
<rect x="484" y="649" width="1" height="41"/>
<rect x="492" y="640" width="1" height="50"/>
<rect x="500" y="634" width="1" height="56"/>
<rect x="508" y="631" width="1" height="59"/>
<rect x="516" y="629" width="1" height="61"/>
<rect x="524" y="628" width="1" height="62"/>
<rect x="532" y="625" width="1" height="65"/>
<rect x="540" y="623" width="1" height="67"/>
<rect x="548" y="625" width="1" height="65"/>
<rect x="556" y="625" width="1" height="65"/>
<rect x="564" y="626" width="1" height="64"/>
<rect x="572" y="626" width="1" height="64"/>
<rect x="580" y="627" width="1" height="63"/>
<rect x="588" y="627" width="1" height="63"/>
<rect x="596" y="626" width="1" height="64"/>
<rect x="604" y="631" width="1" height="59"/>
<rect x="612" y="634" width="1" height="56"/>
<rect x="620" y="638" width="1" height="52"/>
<rect x="628" y="639" width="1" height="51"/>
<rect x="636" y="640" width="1" height="50"/>
<rect x="644" y="645" width="1" height="45"/>
<rect x="652" y="650" width="1" height="40"/>
<rect x="660" y="653" width="1" height="37"/>
<rect x="668" y="657" width="1" height="33"/>
<rect x="676" y="660" width="1" height="30"/>
<rect x="684" y="663" width="1" height="27"/>
<rect x="692" y="667" width="1" height="23"/>
<rect x="700" y="668" width="1" height="22"/>
<rect x="708" y="667" width="1" height="23"/>
<rect x="716" y="669" width="1" height="21"/>
<rect x="724" y="672" width="1" height="18"/>
<rect x="732" y="676" width="1" height="14"/>
<rect x="740" y="678" width="1" height="12"/>
<rect x="748" y="679" width="1" height="11"/>
<rect x="756" y="681" width="1" height="9"/>
<rect x="764" y="679" width="1" height="11"/>
<rect x="772" y="671" width="1" height="19"/>
<rect x="780" y="666" width="1" height="24"/>
<rect x="788" y="660" width="1" height="30"/>
<rect x="796" y="655" width="1" height="35"/>
<rect x="804" y="650" width="1" height="40"/>
<rect x="812" y="648" width="1" height="42"/>
<rect x="820" y="645" width="1" height="45"/>
<rect x="828" y="641" width="1" height="49"/>
<rect x="836" y="635" width="1" height="55"/>
<rect x="844" y="632" width="1" height="58"/>
<rect x="852" y="628" width="1" height="62"/>
<rect x="860" y="624" width="1" height="66"/>
<rect x="868" y="620" width="1" height="70"/>
<rect x="876" y="609" width="1" height="81"/>
<rect x="884" y="600" width="1" height="90"/>
<rect x="892" y="593" width="1" height="97"/>
<rect x="900" y="593" width="1" height="97"/>
<rect x="908" y="588" width="1" height="102"/>
<rect x="916" y="592" width="1" height="98"/>
<rect x="924" y="597" width="1" height="93"/>
<rect x="932" y="609" width="1" height="81"/>
<rect x="940" y="622" width="1" height="68"/>
<rect x="948" y="628" width="1" height="62"/>
<rect x="956" y="630" width="1" height="60"/>
<rect x="964" y="632" width="1" height="58"/>
<rect x="972" y="635" width="1" height="55"/>
<rect x="980" y="637" width="1" height="53"/>
<rect x="988" y="639" width="1" height="51"/>
<rect x="996" y="640" width="1" height="50"/>
<rect x="1004" y="636" width="1" height="54"/>
<rect x="1012" y="632" width="1" height="58"/>
<rect x="1020" y="623" width="1" height="67"/>
<rect x="1028" y="615" width="1" height="75"/>
<rect x="1036" y="614" width="1" height="76"/>
<rect x="1044" y="614" width="1" height="76"/>
<rect x="1052" y="618" width="1" height="72"/>
<rect x="1060" y="618" width="1" height="72"/>
<rect x="1068" y="628" width="1" height="62"/>
<rect x="1076" y="633" width="1" height="57"/>
<rect x="1084" y="647" width="1" height="43"/>
<rect x="1092" y="656" width="1" height="34"/>
<rect x="1100" y="667" width="1" height="23"/>
<rect x="1108" y="668" width="1" height="22"/>
<rect x="1116" y="675" width="1" height="15"/>
<rect x="1124" y="682" width="1" height="8"/>
<rect x="1132" y="689" width="1" height="1"/>
<rect x="1140" y="689" width="1" height="8"/>
<rect x="1148" y="689" width="1" height="10"/>
<rect x="1156" y="689" width="1" height="8"/>
<rect x="1164" y="689" width="1" height="13"/>
<rect x="1172" y="689" width="1" height="14"/>
<rect x="1180" y="689" width="1" height="14"/>
<rect x="1188" y="689" width="1" height="14"/>
<rect x="1196" y="689" width="1" height="9"/>
<rect x="1204" y="689" width="1" height="10"/>
<rect x="1212" y="689" width="1" height="12"/>
<rect x="1220" y="689" width="1" height="16"/>
<rect x="1228" y="689" width="1" height="25"/>
<rect x="1236" y="689" width="1" height="33"/>
<rect x="1244" y="689" width="1" height="34"/>
<rect x="1252" y="689" width="1" height="33"/>
<rect x="1260" y="689" width="1" height="29"/>
<rect x="1268" y="689" width="1" height="29"/>
<rect x="1276" y="689" width="1" height="25"/>
<rect x="1284" y="689" width="1" height="23"/>
<rect x="1292" y="689" width="1" height="21"/>
<rect x="1300" y="689" width="1" height="19"/>
<rect x="1308" y="689" width="1" height="19"/>
<rect x="1316" y="689" width="1" height="16"/>
<rect x="1324" y="689" width="1" height="11"/>
<rect x="1332" y="689" width="1" height="9"/>
<rect x="1340" y="689" width="1" height="6"/>
<rect x="1348" y="689" width="1" height="3"/>
<rect x="1356" y="689" width="1" height="3"/>
<rect x="1364" y="689" width="1" height="2"/>
<rect x="1372" y="689" width="1" height="2"/>
<rect x="1380" y="689" width="1" height="2"/>
<rect x="1388" y="689" width="1" height="1"/>
<rect x="1396" y="689" width="1" height="1"/>
<rect x="1404" y="689" width="1" height="1"/>
<rect x="1412" y="688" width="1" height="2"/>
<rect x="1420" y="688" width="1" height="2"/>
</g>
<polyline points="0.0,696.4 13.4,696.4 33.5,692.3 53.6,688.3 77.1,682.9 100.6,679.6 124.0,678.3 140.8,678.9 160.9,685.0 181.0,693.0 197.8,699.7 214.5,703.4 234.7,708.1 258.1,714.1 274.9,722.5 291.7,730.9 308.4,733.2 321.8,730.9 338.6,724.2 355.3,712.4 375.5,700.7 395.6,690.7 412.3,683.3 425.7,679.6 445.9,678.3 466.0,674.9 486.1,669.9 506.2,657.1 523.0,644.7 539.7,634.3 553.1,628.6 566.5,626.3 570.0,626.3 586.8,625.3 603.5,625.3 623.6,628.6 643.8,633.7 663.9,640.4 684.0,648.8 704.1,657.8 720.9,661.5 737.6,667.9 754.4,672.2 771.1,674.2 784.5,673.2 801.3,668.9 818.1,661.5 834.8,652.1 851.6,643.7 868.4,635.3 885.1,625.3 901.9,613.6 915.3,605.2 925.3,601.1 938.8,599.1 948.8,601.1 962.2,607.9 979.0,618.6 992.4,628.0 1005.8,632.0 1019.2,633.0 1029.3,631.3 1039.3,628.6 1052.7,625.3 1062.8,621.9 1072.8,621.3 1086.3,622.6 1099.7,632.0 1116.4,645.4 1133.2,662.2 1150.0,676.2 1163.4,687.3 1180.2,695.7 1193.6,699.7 1213.7,700.7 1227.1,703.4 1243.9,707.4 1260.6,710.8 1277.4,715.8 1294.2,717.5 1307.6,715.1 1324.3,709.8 1344.4,704.1 1364.5,697.4 1381.3,693.0 1394.7,689.6 1408.1,688.3 1421.5,688.0" fill="none" stroke="#ff0000" stroke-width="1" shape-rendering="crispEdges" stroke-dasharray="3,3"/>
<line x1="1250.6" y1="715.1" x2="1384.6" y2="687.4" stroke="#ff0000" stroke-width="3.2" marker-end="url(#ah)"/>
<line x1="1381.3" y1="686.6" x2="1452.9" y2="689.8" stroke="#ff0000" stroke-width="3" marker-end="url(#ah)"/>
<g shape-rendering="crispEdges">
<line x1="2" y1="786.5" x2="1683" y2="786.5" stroke="#c0c0c0" stroke-width="1" stroke-dasharray="3,3"/>
<line x1="2" y1="837.5" x2="1683" y2="837.5" stroke="#c0c0c0" stroke-width="1" stroke-dasharray="3,3"/>
<line x1="2" y1="898.5" x2="1683" y2="898.5" stroke="#c0c0c0" stroke-width="1" stroke-dasharray="3,3"/>
</g>
<polyline points="-3.5,834.2 4.5,829.5 12.5,832.2 20.5,833.5 28.5,828.8 36.5,827.1 44.5,832.8 52.5,844.9 60.5,835.5 68.5,825.5 76.5,827.1 84.5,827.5 92.5,836.2 100.5,830.5 108.5,838.2 116.5,838.2 124.5,838.2 132.5,842.9 140.5,849.6 148.5,853.3 156.5,854.3 164.5,856.3 172.5,861.3 180.5,851.6 188.5,848.3 196.5,840.5 204.5,841.5 212.5,853.3 220.5,848.9 228.5,863.3 236.5,868.4 244.5,866.4 252.5,874.1 260.5,876.4 268.5,865.0 276.5,868.4 284.5,861.3 292.5,848.9 300.5,843.9 308.5,836.2 316.5,838.2 324.5,840.5 332.5,822.8 340.5,822.4 348.5,825.5 356.5,842.2 364.5,833.8 372.5,829.5 380.5,830.5 388.5,827.1 396.5,822.1 404.5,819.4 412.5,828.1 420.5,832.2 428.5,835.5 436.5,846.2 444.5,840.5 452.5,821.4 460.5,824.8 468.5,807.0 476.5,810.4 484.5,805.3 492.5,800.3 500.5,804.3 508.5,805.3 516.5,806.3 524.5,803.7 532.5,802.7 540.5,800.3 548.5,809.4 556.5,806.7 564.5,806.3 572.5,803.7 580.5,803.7 588.5,798.6 596.5,797.0 604.5,820.1 612.5,816.1 620.5,819.4 628.5,814.4 636.5,810.4 644.5,828.8 652.5,833.2 660.5,826.1 668.5,830.5 676.5,829.5 684.5,832.8 692.5,837.2 700.5,827.1 708.5,822.8 716.5,830.5 724.5,836.2 732.5,843.2 740.5,836.5 748.5,833.2 756.5,835.5 764.5,826.5 772.5,810.4 780.5,810.4 788.5,806.3 796.5,804.3 804.5,803.7 812.5,807.0 820.5,801.3 828.5,798.0 836.5,793.6 844.5,794.3 852.5,790.3 860.5,789.3 868.5,785.2 876.5,777.5 884.5,774.5 892.5,774.5 900.5,796.3 908.5,787.9 916.5,809.7 924.5,814.7 932.5,833.2 940.5,838.2 948.5,827.1 956.5,821.4 964.5,821.4 972.5,825.5 980.5,821.4 988.5,824.5 996.5,819.8 1004.5,810.4 1012.5,808.0 1020.5,800.3 1028.5,797.0 1036.5,812.0 1044.5,811.4 1052.5,823.1 1060.5,814.4 1068.5,834.8 1076.5,829.5 1084.5,846.2 1092.5,841.2 1100.5,844.9 1108.5,834.5 1116.5,842.2 1124.5,845.6 1132.5,851.3 1140.5,845.6 1148.5,844.9 1156.5,837.2 1164.5,846.2 1172.5,843.2 1180.5,841.2 1188.5,840.2 1196.5,834.5 1204.5,841.2 1212.5,843.9 1220.5,849.9 1228.5,858.0 1236.5,859.6 1244.5,851.6 1252.5,846.2 1260.5,844.2 1268.5,846.6 1276.5,837.2 1284.5,842.2 1292.5,832.8 1300.5,840.5 1308.5,843.9 1316.5,842.2 1324.5,834.5 1332.5,836.5 1340.5,833.2 1348.5,832.2 1356.5,830.5 1364.5,843.9 1372.5,838.9 1380.5,831.5 1388.5,834.5 1396.5,835.5 1404.5,836.2 1412.5,830.5 1420.5,844.6" fill="none" stroke="#1e90ff" stroke-width="1" shape-rendering="crispEdges" />
<line x1="1227.8" y1="855.0" x2="1284.6" y2="841.6" stroke="#ff0000" stroke-width="3.2" marker-end="url(#ah)"/>
<line x1="1289.1" y1="837.9" x2="1417.7" y2="836.3" stroke="#ff0000" stroke-width="3.2" marker-end="url(#ah)"/>
<defs><linearGradient id="rg" gradientUnits="userSpaceOnUse" x1="0" y1="43" x2="0" y2="107"><stop offset="0" stop-color="#fa5252"/><stop offset="0.38" stop-color="#dc2c2c"/><stop offset="1" stop-color="#b20000"/></linearGradient>
<linearGradient id="bg" x1="0" y1="0" x2="0" y2="1"><stop offset="0" stop-color="#f6f6f6"/><stop offset="0.45" stop-color="#e2e2e2"/><stop offset="0.5" stop-color="#d4d4d4"/><stop offset="1" stop-color="#cdcdcd"/></linearGradient></defs>
<path d="M-0.5 43.5H50.5V67.5H107.5V106.5H-0.5z" fill="url(#rg)" stroke="#b40a0a" stroke-width="1"/>
<path d="M166.5 43.5H217.5V106.5H110.5V67.5H166.5z" fill="url(#rg)" stroke="#b40a0a" stroke-width="1"/>
<rect x="3" y="66" width="44" height="1" fill="#a80808"/><rect x="3" y="67" width="44" height="1" fill="#f47878"/>
<rect x="170" y="66" width="44" height="1" fill="#a80808"/><rect x="170" y="67" width="44" height="1" fill="#f47878"/>
<rect x="51" y="43" width="115" height="24" fill="#fff"/>
<rect x="53.5" y="43.75" width="110" height="20.5" rx="1" fill="#fff" stroke="#a4a8b2" stroke-width="1.3"/>
<rect x="54.7" y="45" width="19" height="18" fill="url(#bg)"/><rect x="143.6" y="45" width="18.7" height="18" fill="url(#bg)"/>
<rect x="74" y="44.4" width="1.2" height="19.4" fill="#a4a8b2"/><rect x="142.4" y="44.4" width="1.2" height="19.4" fill="#a4a8b2"/>
<path d="M61 52.2h5l-2.5 3z" fill="#4a5cc0"/><path d="M150 55.2h5l-2.5 -3z" fill="#4a5cc0"/>
<text x="139.2" y="58.2" font-size="12.3px" fill="#000" text-anchor="end">1.00</text>
<text x="11.2" y="58.9" font-size="12.2px" fill="#fff" textLength="25.7" lengthAdjust="spacingAndGlyphs">SELL</text>
<text x="179.4" y="58.9" font-size="12.2px" fill="#fff" textLength="23.4" lengthAdjust="spacingAndGlyphs">BUY</text>
<text x="15.2" y="97.8" font-size="12px" font-weight="bold" fill="#fff" textLength="34" lengthAdjust="spacingAndGlyphs">28520</text>
<text x="125" y="97.8" font-size="12px" font-weight="bold" fill="#fff" textLength="34.6" lengthAdjust="spacingAndGlyphs">28536</text>
<text x="53.5" y="97.8" font-size="25px" font-weight="bold" fill="#fff">.</text><text x="163.8" y="97.8" font-size="25px" font-weight="bold" fill="#fff">.</text>
<text x="61.4" y="97.9" font-size="34px" fill="#fff" stroke="url(#rg)" stroke-width="0.55" textLength="15.4" lengthAdjust="spacingAndGlyphs">5</text>
<text x="172.4" y="97.9" font-size="34px" fill="#fff" stroke="url(#rg)" stroke-width="0.55" textLength="15.4" lengthAdjust="spacingAndGlyphs">5</text>
</svg></body></html>
